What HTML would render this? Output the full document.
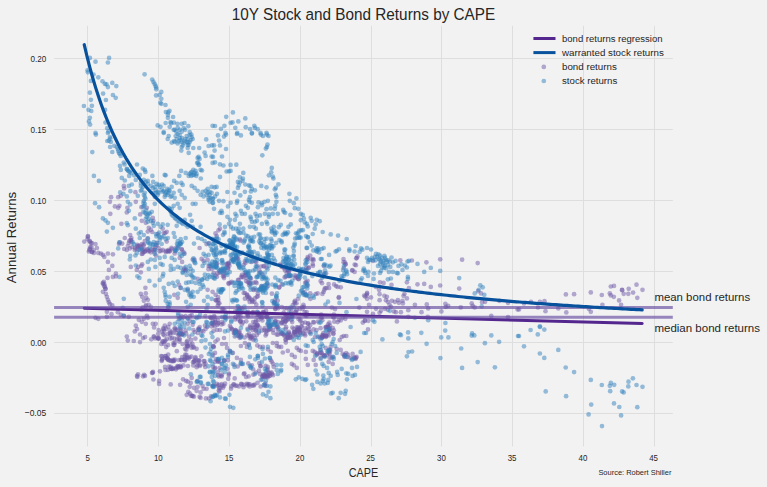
<!DOCTYPE html><html><head><meta charset="utf-8"><title>10Y Stock and Bond Returns by CAPE</title><style>html,body{margin:0;padding:0;background:#f2f2f2;}body{width:767px;height:487px;overflow:hidden}</style></head><body><svg width="767" height="487" viewBox="0 0 767 487" style="display:block;font-family:'Liberation Sans',sans-serif">
<rect width="767" height="487" fill="#f2f2f2"/>
<path d="M87.5 25.8V446.4M158.5 25.8V446.4M229.5 25.8V446.4M300.5 25.8V446.4M371.5 25.8V446.4M441.5 25.8V446.4M512.5 25.8V446.4M583.5 25.8V446.4M654.5 25.8V446.4M54.1 413.5H672.8M54.1 342.5H672.8M54.1 271.5H672.8M54.1 200.5H672.8M54.1 129.5H672.8M54.1 58.5H672.8" stroke="#dedede" stroke-width="1" fill="none"/>
<g fill="#6e5aa8" fill-opacity="0.5"><circle cx="123.8" cy="185.9" r="2.35"/><circle cx="124.2" cy="188.5" r="2.35"/><circle cx="135.4" cy="192.2" r="2.35"/><circle cx="111.1" cy="197.2" r="2.35"/><circle cx="118.2" cy="197.2" r="2.35"/><circle cx="120.8" cy="195.8" r="2.35"/><circle cx="109.9" cy="201.8" r="2.35"/><circle cx="114.9" cy="206.4" r="2.35"/><circle cx="118.2" cy="207.8" r="2.35"/><circle cx="119.4" cy="205.8" r="2.35"/><circle cx="110.3" cy="213.8" r="2.35"/><circle cx="127.4" cy="207.8" r="2.35"/><circle cx="126.8" cy="212.4" r="2.35"/><circle cx="135.8" cy="201.8" r="2.35"/><circle cx="141.4" cy="207.2" r="2.35"/><circle cx="140.2" cy="214.4" r="2.35"/><circle cx="146.8" cy="207.8" r="2.35"/><circle cx="141.8" cy="220.8" r="2.35"/><circle cx="145.8" cy="222.8" r="2.35"/><circle cx="152.8" cy="217.8" r="2.35"/><circle cx="153.4" cy="220.8" r="2.35"/><circle cx="121.4" cy="223.8" r="2.35"/><circle cx="148.8" cy="227.8" r="2.35"/><circle cx="150.8" cy="229.7" r="2.35"/><circle cx="162.7" cy="228.7" r="2.35"/><circle cx="220.0" cy="228.7" r="2.35"/><circle cx="87.9" cy="236.0" r="2.35"/><circle cx="84.3" cy="241.6" r="2.35"/><circle cx="87.5" cy="239.0" r="2.35"/><circle cx="89.9" cy="241.6" r="2.35"/><circle cx="91.9" cy="243.0" r="2.35"/><circle cx="95.5" cy="244.0" r="2.35"/><circle cx="90.3" cy="247.0" r="2.35"/><circle cx="89.5" cy="249.9" r="2.35"/><circle cx="91.9" cy="251.9" r="2.35"/><circle cx="93.5" cy="250.3" r="2.35"/><circle cx="96.9" cy="248.0" r="2.35"/><circle cx="98.3" cy="252.9" r="2.35"/><circle cx="100.9" cy="253.5" r="2.35"/><circle cx="102.9" cy="254.9" r="2.35"/><circle cx="104.3" cy="256.9" r="2.35"/><circle cx="107.9" cy="253.5" r="2.35"/><circle cx="112.9" cy="254.3" r="2.35"/><circle cx="107.9" cy="261.9" r="2.35"/><circle cx="112.3" cy="265.9" r="2.35"/><circle cx="108.9" cy="269.9" r="2.35"/><circle cx="115.9" cy="273.5" r="2.35"/><circle cx="112.9" cy="276.9" r="2.35"/><circle cx="115.9" cy="276.3" r="2.35"/><circle cx="107.5" cy="277.9" r="2.35"/><circle cx="102.9" cy="282.9" r="2.35"/><circle cx="104.3" cy="284.3" r="2.35"/><circle cx="104.9" cy="286.9" r="2.35"/><circle cx="105.5" cy="288.8" r="2.35"/><circle cx="102.9" cy="291.8" r="2.35"/><circle cx="105.9" cy="293.8" r="2.35"/><circle cx="106.9" cy="296.8" r="2.35"/><circle cx="107.9" cy="299.8" r="2.35"/><circle cx="108.9" cy="302.2" r="2.35"/><circle cx="109.9" cy="304.2" r="2.35"/><circle cx="112.3" cy="305.4" r="2.35"/><circle cx="106.9" cy="311.8" r="2.35"/><circle cx="111.5" cy="314.2" r="2.35"/><circle cx="106.9" cy="316.8" r="2.35"/><circle cx="117.8" cy="312.2" r="2.35"/><circle cx="120.8" cy="314.8" r="2.35"/><circle cx="123.8" cy="315.8" r="2.35"/><circle cx="128.8" cy="316.8" r="2.35"/><circle cx="95.5" cy="317.8" r="2.35"/><circle cx="98.3" cy="318.8" r="2.35"/><circle cx="124.8" cy="238.0" r="2.35"/><circle cx="130.2" cy="235.0" r="2.35"/><circle cx="131.4" cy="238.0" r="2.35"/><circle cx="119.8" cy="242.4" r="2.35"/><circle cx="122.2" cy="243.6" r="2.35"/><circle cx="128.8" cy="243.0" r="2.35"/><circle cx="127.8" cy="246.0" r="2.35"/><circle cx="124.2" cy="249.0" r="2.35"/><circle cx="126.8" cy="249.9" r="2.35"/><circle cx="129.8" cy="248.4" r="2.35"/><circle cx="132.2" cy="247.0" r="2.35"/><circle cx="134.8" cy="249.9" r="2.35"/><circle cx="136.8" cy="249.0" r="2.35"/><circle cx="141.8" cy="244.0" r="2.35"/><circle cx="144.8" cy="241.0" r="2.35"/><circle cx="147.8" cy="238.4" r="2.35"/><circle cx="147.8" cy="231.6" r="2.35"/><circle cx="152.2" cy="232.0" r="2.35"/><circle cx="157.7" cy="234.0" r="2.35"/><circle cx="163.7" cy="233.0" r="2.35"/><circle cx="166.7" cy="241.6" r="2.35"/><circle cx="158.7" cy="248.0" r="2.35"/><circle cx="153.8" cy="249.9" r="2.35"/><circle cx="150.8" cy="252.3" r="2.35"/><circle cx="147.8" cy="249.9" r="2.35"/><circle cx="144.8" cy="251.5" r="2.35"/><circle cx="141.8" cy="253.9" r="2.35"/><circle cx="162.7" cy="249.9" r="2.35"/><circle cx="165.7" cy="250.9" r="2.35"/><circle cx="168.7" cy="249.9" r="2.35"/><circle cx="171.7" cy="249.0" r="2.35"/><circle cx="174.7" cy="253.5" r="2.35"/><circle cx="177.7" cy="247.6" r="2.35"/><circle cx="181.7" cy="249.0" r="2.35"/><circle cx="179.7" cy="257.9" r="2.35"/><circle cx="182.1" cy="261.9" r="2.35"/><circle cx="142.2" cy="264.3" r="2.35"/><circle cx="141.4" cy="265.9" r="2.35"/><circle cx="138.2" cy="266.9" r="2.35"/><circle cx="136.8" cy="269.9" r="2.35"/><circle cx="140.8" cy="272.3" r="2.35"/><circle cx="130.8" cy="266.9" r="2.35"/><circle cx="145.4" cy="287.8" r="2.35"/><circle cx="140.8" cy="293.8" r="2.35"/><circle cx="142.2" cy="296.8" r="2.35"/><circle cx="145.8" cy="293.4" r="2.35"/><circle cx="146.2" cy="297.8" r="2.35"/><circle cx="147.8" cy="299.8" r="2.35"/><circle cx="143.8" cy="300.8" r="2.35"/><circle cx="148.8" cy="304.8" r="2.35"/><circle cx="150.8" cy="306.8" r="2.35"/><circle cx="146.8" cy="315.8" r="2.35"/><circle cx="143.8" cy="318.8" r="2.35"/><circle cx="147.8" cy="317.8" r="2.35"/><circle cx="141.8" cy="321.8" r="2.35"/><circle cx="145.8" cy="323.8" r="2.35"/><circle cx="138.8" cy="319.8" r="2.35"/><circle cx="135.8" cy="325.7" r="2.35"/><circle cx="152.8" cy="323.8" r="2.35"/><circle cx="155.7" cy="323.8" r="2.35"/><circle cx="174.3" cy="294.8" r="2.35"/><circle cx="177.7" cy="297.8" r="2.35"/><circle cx="187.7" cy="289.8" r="2.35"/><circle cx="192.7" cy="259.5" r="2.35"/><circle cx="194.6" cy="259.9" r="2.35"/><circle cx="199.6" cy="248.0" r="2.35"/><circle cx="201.6" cy="258.9" r="2.35"/><circle cx="203.6" cy="260.9" r="2.35"/><circle cx="207.6" cy="259.9" r="2.35"/><circle cx="208.6" cy="265.9" r="2.35"/><circle cx="211.6" cy="268.9" r="2.35"/><circle cx="207.6" cy="289.8" r="2.35"/><circle cx="212.6" cy="291.8" r="2.35"/><circle cx="189.7" cy="320.8" r="2.35"/><circle cx="187.7" cy="323.8" r="2.35"/><circle cx="192.7" cy="324.8" r="2.35"/><circle cx="169.7" cy="323.8" r="2.35"/><circle cx="400.3" cy="260.3" r="2.35"/><circle cx="411.9" cy="260.5" r="2.35"/><circle cx="426.4" cy="262.3" r="2.35"/><circle cx="440.2" cy="259.3" r="2.35"/><circle cx="462.1" cy="259.7" r="2.35"/><circle cx="477.7" cy="263.1" r="2.35"/><circle cx="373.0" cy="260.9" r="2.35"/><circle cx="406.9" cy="282.3" r="2.35"/><circle cx="417.5" cy="284.3" r="2.35"/><circle cx="424.2" cy="283.9" r="2.35"/><circle cx="430.8" cy="286.9" r="2.35"/><circle cx="440.2" cy="285.5" r="2.35"/><circle cx="459.2" cy="288.6" r="2.35"/><circle cx="408.9" cy="288.2" r="2.35"/><circle cx="404.5" cy="293.8" r="2.35"/><circle cx="403.5" cy="295.8" r="2.35"/><circle cx="406.9" cy="298.4" r="2.35"/><circle cx="391.5" cy="284.9" r="2.35"/><circle cx="383.6" cy="282.9" r="2.35"/><circle cx="380.0" cy="282.3" r="2.35"/><circle cx="376.0" cy="286.9" r="2.35"/><circle cx="379.0" cy="289.8" r="2.35"/><circle cx="379.6" cy="294.2" r="2.35"/><circle cx="384.4" cy="295.8" r="2.35"/><circle cx="386.9" cy="296.8" r="2.35"/><circle cx="379.6" cy="300.2" r="2.35"/><circle cx="385.9" cy="300.2" r="2.35"/><circle cx="387.9" cy="301.8" r="2.35"/><circle cx="391.9" cy="300.8" r="2.35"/><circle cx="389.5" cy="304.8" r="2.35"/><circle cx="390.9" cy="306.8" r="2.35"/><circle cx="394.9" cy="301.8" r="2.35"/><circle cx="397.9" cy="300.2" r="2.35"/><circle cx="398.9" cy="302.8" r="2.35"/><circle cx="402.5" cy="300.8" r="2.35"/><circle cx="402.9" cy="303.4" r="2.35"/><circle cx="367.0" cy="293.8" r="2.35"/><circle cx="371.0" cy="297.4" r="2.35"/><circle cx="367.0" cy="298.8" r="2.35"/><circle cx="369.0" cy="304.8" r="2.35"/><circle cx="414.9" cy="304.8" r="2.35"/><circle cx="426.8" cy="304.4" r="2.35"/><circle cx="428.2" cy="308.4" r="2.35"/><circle cx="445.4" cy="303.8" r="2.35"/><circle cx="448.2" cy="305.8" r="2.35"/><circle cx="445.8" cy="306.8" r="2.35"/><circle cx="441.4" cy="311.4" r="2.35"/><circle cx="421.5" cy="312.2" r="2.35"/><circle cx="408.3" cy="310.2" r="2.35"/><circle cx="400.9" cy="312.2" r="2.35"/><circle cx="395.9" cy="312.2" r="2.35"/><circle cx="393.9" cy="311.4" r="2.35"/><circle cx="387.9" cy="309.8" r="2.35"/><circle cx="385.0" cy="308.8" r="2.35"/><circle cx="381.0" cy="310.8" r="2.35"/><circle cx="379.6" cy="312.8" r="2.35"/><circle cx="376.0" cy="308.8" r="2.35"/><circle cx="373.0" cy="313.8" r="2.35"/><circle cx="367.0" cy="311.8" r="2.35"/><circle cx="368.4" cy="320.8" r="2.35"/><circle cx="396.9" cy="321.4" r="2.35"/><circle cx="408.3" cy="316.8" r="2.35"/><circle cx="427.8" cy="316.8" r="2.35"/><circle cx="460.8" cy="307.4" r="2.35"/><circle cx="471.7" cy="303.4" r="2.35"/><circle cx="472.7" cy="305.8" r="2.35"/><circle cx="474.7" cy="307.4" r="2.35"/><circle cx="482.1" cy="302.2" r="2.35"/><circle cx="485.1" cy="301.8" r="2.35"/><circle cx="481.1" cy="293.4" r="2.35"/><circle cx="478.1" cy="291.2" r="2.35"/><circle cx="491.3" cy="315.8" r="2.35"/><circle cx="508.0" cy="302.8" r="2.35"/><circle cx="499.3" cy="300.8" r="2.35"/><circle cx="508.0" cy="317.2" r="2.35"/><circle cx="517.6" cy="309.4" r="2.35"/><circle cx="565.9" cy="294.4" r="2.35"/><circle cx="574.1" cy="294.2" r="2.35"/><circle cx="590.8" cy="292.4" r="2.35"/><circle cx="601.8" cy="295.0" r="2.35"/><circle cx="609.8" cy="293.4" r="2.35"/><circle cx="610.8" cy="295.4" r="2.35"/><circle cx="613.8" cy="296.8" r="2.35"/><circle cx="610.8" cy="286.5" r="2.35"/><circle cx="614.0" cy="285.9" r="2.35"/><circle cx="622.1" cy="289.8" r="2.35"/><circle cx="623.7" cy="293.8" r="2.35"/><circle cx="628.7" cy="288.8" r="2.35"/><circle cx="628.3" cy="293.8" r="2.35"/><circle cx="633.1" cy="292.6" r="2.35"/><circle cx="636.5" cy="284.7" r="2.35"/><circle cx="642.5" cy="289.8" r="2.35"/><circle cx="637.3" cy="297.8" r="2.35"/><circle cx="619.1" cy="300.4" r="2.35"/><circle cx="621.1" cy="304.8" r="2.35"/><circle cx="602.4" cy="304.8" r="2.35"/><circle cx="590.8" cy="311.8" r="2.35"/><circle cx="588.8" cy="308.8" r="2.35"/><circle cx="566.3" cy="312.4" r="2.35"/><circle cx="558.3" cy="308.4" r="2.35"/><circle cx="545.5" cy="311.2" r="2.35"/><circle cx="538.0" cy="307.4" r="2.35"/><circle cx="539.9" cy="301.8" r="2.35"/><circle cx="544.5" cy="301.2" r="2.35"/><circle cx="531.0" cy="301.8" r="2.35"/><circle cx="524.0" cy="303.4" r="2.35"/><circle cx="519.0" cy="309.4" r="2.35"/><circle cx="126.8" cy="336.6" r="2.35"/><circle cx="127.8" cy="340.6" r="2.35"/><circle cx="133.8" cy="341.0" r="2.35"/><circle cx="134.8" cy="331.4" r="2.35"/><circle cx="137.4" cy="376.9" r="2.35"/><circle cx="153.4" cy="379.5" r="2.35"/><circle cx="159.1" cy="380.9" r="2.35"/><circle cx="159.1" cy="383.9" r="2.35"/><circle cx="170.7" cy="384.4" r="2.35"/><circle cx="180.1" cy="384.8" r="2.35"/><circle cx="183.1" cy="379.3" r="2.35"/><circle cx="186.1" cy="380.9" r="2.35"/><circle cx="190.7" cy="382.9" r="2.35"/><circle cx="189.7" cy="386.8" r="2.35"/><circle cx="191.7" cy="377.9" r="2.35"/><circle cx="188.3" cy="391.8" r="2.35"/><circle cx="186.7" cy="394.8" r="2.35"/><circle cx="192.1" cy="395.8" r="2.35"/><circle cx="194.0" cy="387.8" r="2.35"/><circle cx="197.6" cy="386.8" r="2.35"/><circle cx="196.6" cy="390.8" r="2.35"/><circle cx="200.6" cy="392.4" r="2.35"/><circle cx="199.6" cy="396.8" r="2.35"/><circle cx="200.6" cy="397.8" r="2.35"/><circle cx="203.6" cy="388.8" r="2.35"/><circle cx="206.6" cy="388.8" r="2.35"/><circle cx="202.6" cy="385.8" r="2.35"/><circle cx="197.6" cy="380.9" r="2.35"/><circle cx="220.0" cy="330.0" r="2.35"/><circle cx="224.0" cy="338.0" r="2.35"/><circle cx="222.0" cy="344.0" r="2.35"/><circle cx="226.0" cy="344.0" r="2.35"/><circle cx="227.0" cy="347.9" r="2.35"/><circle cx="230.0" cy="351.9" r="2.35"/><circle cx="232.9" cy="352.9" r="2.35"/><circle cx="236.9" cy="357.9" r="2.35"/><circle cx="240.9" cy="359.9" r="2.35"/><circle cx="241.9" cy="363.9" r="2.35"/><circle cx="244.9" cy="343.0" r="2.35"/><circle cx="248.9" cy="344.0" r="2.35"/><circle cx="240.9" cy="346.0" r="2.35"/><circle cx="246.9" cy="346.9" r="2.35"/><circle cx="250.9" cy="337.0" r="2.35"/><circle cx="257.3" cy="345.4" r="2.35"/><circle cx="259.9" cy="346.9" r="2.35"/><circle cx="262.9" cy="346.9" r="2.35"/><circle cx="267.9" cy="349.3" r="2.35"/><circle cx="270.8" cy="351.9" r="2.35"/><circle cx="272.8" cy="343.0" r="2.35"/><circle cx="276.8" cy="343.0" r="2.35"/><circle cx="276.8" cy="346.0" r="2.35"/><circle cx="278.8" cy="346.9" r="2.35"/><circle cx="281.2" cy="346.9" r="2.35"/><circle cx="282.8" cy="352.5" r="2.35"/><circle cx="285.8" cy="342.6" r="2.35"/><circle cx="287.8" cy="350.9" r="2.35"/><circle cx="291.8" cy="354.9" r="2.35"/><circle cx="294.8" cy="356.9" r="2.35"/><circle cx="296.8" cy="347.9" r="2.35"/><circle cx="298.8" cy="349.9" r="2.35"/><circle cx="300.8" cy="350.9" r="2.35"/><circle cx="305.8" cy="351.9" r="2.35"/><circle cx="305.8" cy="358.9" r="2.35"/><circle cx="307.8" cy="364.9" r="2.35"/><circle cx="291.8" cy="363.9" r="2.35"/><circle cx="293.8" cy="365.3" r="2.35"/><circle cx="296.8" cy="367.9" r="2.35"/><circle cx="312.7" cy="350.9" r="2.35"/><circle cx="314.7" cy="351.9" r="2.35"/><circle cx="313.7" cy="359.9" r="2.35"/><circle cx="315.7" cy="364.9" r="2.35"/><circle cx="316.7" cy="354.9" r="2.35"/><circle cx="319.7" cy="352.9" r="2.35"/><circle cx="322.7" cy="354.9" r="2.35"/><circle cx="324.7" cy="355.9" r="2.35"/><circle cx="326.7" cy="354.9" r="2.35"/><circle cx="329.7" cy="353.9" r="2.35"/><circle cx="331.7" cy="357.9" r="2.35"/><circle cx="332.7" cy="363.9" r="2.35"/><circle cx="328.7" cy="361.9" r="2.35"/><circle cx="336.7" cy="348.9" r="2.35"/><circle cx="340.7" cy="349.9" r="2.35"/><circle cx="342.7" cy="353.9" r="2.35"/><circle cx="344.7" cy="354.9" r="2.35"/><circle cx="347.6" cy="356.9" r="2.35"/><circle cx="350.6" cy="357.9" r="2.35"/><circle cx="352.6" cy="353.9" r="2.35"/><circle cx="355.6" cy="358.9" r="2.35"/><circle cx="356.6" cy="356.9" r="2.35"/><circle cx="341.7" cy="337.0" r="2.35"/><circle cx="343.7" cy="336.0" r="2.35"/><circle cx="346.3" cy="336.0" r="2.35"/><circle cx="339.7" cy="340.0" r="2.35"/><circle cx="330.7" cy="346.9" r="2.35"/><circle cx="325.7" cy="347.9" r="2.35"/><circle cx="238.9" cy="336.0" r="2.35"/><circle cx="238.5" cy="335.4" r="2.35"/><circle cx="215.0" cy="352.9" r="2.35"/><circle cx="213.0" cy="354.9" r="2.35"/><circle cx="213.0" cy="366.9" r="2.35"/><circle cx="368.0" cy="329.4" r="2.35"/><circle cx="622.1" cy="290.2" r="2.35"/><circle cx="218.5" cy="230.3" r="2.35"/><circle cx="215.5" cy="233.4" r="2.35"/><circle cx="216.7" cy="236.1" r="2.35"/><circle cx="240.0" cy="239.4" r="2.35"/><circle cx="240.5" cy="240.7" r="2.35"/><circle cx="228.4" cy="262.8" r="2.35"/><circle cx="228.9" cy="263.5" r="2.35"/><circle cx="229.4" cy="265.7" r="2.35"/><circle cx="227.2" cy="267.4" r="2.35"/><circle cx="226.3" cy="264.1" r="2.35"/><circle cx="227.7" cy="263.9" r="2.35"/><circle cx="227.4" cy="264.9" r="2.35"/><circle cx="228.0" cy="268.0" r="2.35"/><circle cx="228.3" cy="269.1" r="2.35"/><circle cx="217.2" cy="263.5" r="2.35"/><circle cx="216.6" cy="264.4" r="2.35"/><circle cx="236.2" cy="257.0" r="2.35"/><circle cx="233.2" cy="259.8" r="2.35"/><circle cx="233.1" cy="260.3" r="2.35"/><circle cx="231.8" cy="258.7" r="2.35"/><circle cx="244.8" cy="261.4" r="2.35"/><circle cx="245.5" cy="263.1" r="2.35"/><circle cx="243.7" cy="265.1" r="2.35"/><circle cx="236.5" cy="257.9" r="2.35"/><circle cx="237.5" cy="259.0" r="2.35"/><circle cx="238.2" cy="258.8" r="2.35"/><circle cx="257.2" cy="266.2" r="2.35"/><circle cx="261.0" cy="266.5" r="2.35"/><circle cx="263.4" cy="266.1" r="2.35"/><circle cx="264.3" cy="266.3" r="2.35"/><circle cx="266.6" cy="267.7" r="2.35"/><circle cx="256.3" cy="261.9" r="2.35"/><circle cx="255.3" cy="261.4" r="2.35"/><circle cx="251.6" cy="261.9" r="2.35"/><circle cx="279.9" cy="264.7" r="2.35"/><circle cx="280.4" cy="265.1" r="2.35"/><circle cx="281.4" cy="266.4" r="2.35"/><circle cx="282.3" cy="267.1" r="2.35"/><circle cx="284.4" cy="268.4" r="2.35"/><circle cx="310.2" cy="255.5" r="2.35"/><circle cx="307.7" cy="257.0" r="2.35"/><circle cx="307.8" cy="258.7" r="2.35"/><circle cx="307.1" cy="259.5" r="2.35"/><circle cx="290.1" cy="268.6" r="2.35"/><circle cx="313.1" cy="259.0" r="2.35"/><circle cx="311.7" cy="259.6" r="2.35"/><circle cx="313.5" cy="260.2" r="2.35"/><circle cx="312.7" cy="264.0" r="2.35"/><circle cx="313.0" cy="265.8" r="2.35"/><circle cx="323.9" cy="266.0" r="2.35"/><circle cx="343.5" cy="259.0" r="2.35"/><circle cx="343.6" cy="262.2" r="2.35"/><circle cx="344.9" cy="262.4" r="2.35"/><circle cx="345.6" cy="264.1" r="2.35"/><circle cx="345.5" cy="264.5" r="2.35"/><circle cx="343.7" cy="268.0" r="2.35"/><circle cx="354.7" cy="264.6" r="2.35"/><circle cx="355.9" cy="265.2" r="2.35"/><circle cx="357.5" cy="256.4" r="2.35"/><circle cx="356.7" cy="258.1" r="2.35"/><circle cx="356.2" cy="258.3" r="2.35"/><circle cx="221.1" cy="269.7" r="2.35"/><circle cx="219.5" cy="271.2" r="2.35"/><circle cx="219.8" cy="272.9" r="2.35"/><circle cx="217.4" cy="273.2" r="2.35"/><circle cx="215.6" cy="275.5" r="2.35"/><circle cx="216.9" cy="276.8" r="2.35"/><circle cx="231.7" cy="281.8" r="2.35"/><circle cx="230.4" cy="282.8" r="2.35"/><circle cx="228.7" cy="283.1" r="2.35"/><circle cx="228.6" cy="283.8" r="2.35"/><circle cx="224.1" cy="270.4" r="2.35"/><circle cx="224.4" cy="271.4" r="2.35"/><circle cx="223.3" cy="273.8" r="2.35"/><circle cx="223.0" cy="276.3" r="2.35"/><circle cx="224.0" cy="276.1" r="2.35"/><circle cx="224.0" cy="278.1" r="2.35"/><circle cx="213.7" cy="272.9" r="2.35"/><circle cx="244.9" cy="272.8" r="2.35"/><circle cx="246.2" cy="273.7" r="2.35"/><circle cx="246.4" cy="278.0" r="2.35"/><circle cx="250.1" cy="277.9" r="2.35"/><circle cx="250.9" cy="278.4" r="2.35"/><circle cx="242.0" cy="274.8" r="2.35"/><circle cx="245.3" cy="275.4" r="2.35"/><circle cx="246.3" cy="274.9" r="2.35"/><circle cx="243.1" cy="277.3" r="2.35"/><circle cx="242.0" cy="276.7" r="2.35"/><circle cx="241.1" cy="277.2" r="2.35"/><circle cx="238.7" cy="280.2" r="2.35"/><circle cx="238.0" cy="279.9" r="2.35"/><circle cx="246.0" cy="281.0" r="2.35"/><circle cx="247.7" cy="282.3" r="2.35"/><circle cx="249.0" cy="282.3" r="2.35"/><circle cx="249.2" cy="285.2" r="2.35"/><circle cx="256.6" cy="283.1" r="2.35"/><circle cx="255.7" cy="282.0" r="2.35"/><circle cx="253.2" cy="282.9" r="2.35"/><circle cx="249.8" cy="283.3" r="2.35"/><circle cx="249.8" cy="283.1" r="2.35"/><circle cx="259.3" cy="270.4" r="2.35"/><circle cx="260.3" cy="272.5" r="2.35"/><circle cx="262.4" cy="274.6" r="2.35"/><circle cx="267.4" cy="283.3" r="2.35"/><circle cx="268.0" cy="285.9" r="2.35"/><circle cx="261.9" cy="286.2" r="2.35"/><circle cx="261.1" cy="287.5" r="2.35"/><circle cx="290.6" cy="275.9" r="2.35"/><circle cx="289.3" cy="276.2" r="2.35"/><circle cx="285.6" cy="276.7" r="2.35"/><circle cx="284.6" cy="277.4" r="2.35"/><circle cx="285.1" cy="270.5" r="2.35"/><circle cx="286.7" cy="273.0" r="2.35"/><circle cx="281.9" cy="284.4" r="2.35"/><circle cx="279.3" cy="287.2" r="2.35"/><circle cx="279.1" cy="287.6" r="2.35"/><circle cx="287.6" cy="269.5" r="2.35"/><circle cx="288.0" cy="270.0" r="2.35"/><circle cx="288.6" cy="272.0" r="2.35"/><circle cx="289.1" cy="271.5" r="2.35"/><circle cx="288.5" cy="276.0" r="2.35"/><circle cx="300.0" cy="274.5" r="2.35"/><circle cx="297.6" cy="277.4" r="2.35"/><circle cx="298.7" cy="279.2" r="2.35"/><circle cx="307.6" cy="280.8" r="2.35"/><circle cx="306.1" cy="282.0" r="2.35"/><circle cx="305.2" cy="282.9" r="2.35"/><circle cx="307.8" cy="285.6" r="2.35"/><circle cx="308.9" cy="267.3" r="2.35"/><circle cx="308.5" cy="268.2" r="2.35"/><circle cx="306.3" cy="268.0" r="2.35"/><circle cx="305.6" cy="270.2" r="2.35"/><circle cx="305.0" cy="271.1" r="2.35"/><circle cx="295.1" cy="275.3" r="2.35"/><circle cx="296.0" cy="276.5" r="2.35"/><circle cx="295.0" cy="278.0" r="2.35"/><circle cx="298.2" cy="278.9" r="2.35"/><circle cx="301.2" cy="270.4" r="2.35"/><circle cx="326.1" cy="273.4" r="2.35"/><circle cx="323.6" cy="274.5" r="2.35"/><circle cx="328.6" cy="284.1" r="2.35"/><circle cx="329.1" cy="287.9" r="2.35"/><circle cx="326.5" cy="288.1" r="2.35"/><circle cx="325.1" cy="288.0" r="2.35"/><circle cx="324.3" cy="289.7" r="2.35"/><circle cx="320.6" cy="281.1" r="2.35"/><circle cx="322.0" cy="283.2" r="2.35"/><circle cx="334.1" cy="284.4" r="2.35"/><circle cx="336.0" cy="286.1" r="2.35"/><circle cx="337.7" cy="286.9" r="2.35"/><circle cx="340.8" cy="287.3" r="2.35"/><circle cx="352.5" cy="270.1" r="2.35"/><circle cx="352.1" cy="270.6" r="2.35"/><circle cx="354.6" cy="271.9" r="2.35"/><circle cx="215.6" cy="294.8" r="2.35"/><circle cx="218.1" cy="297.0" r="2.35"/><circle cx="218.3" cy="299.9" r="2.35"/><circle cx="217.5" cy="300.7" r="2.35"/><circle cx="219.4" cy="303.3" r="2.35"/><circle cx="217.9" cy="305.6" r="2.35"/><circle cx="215.7" cy="300.3" r="2.35"/><circle cx="215.8" cy="300.1" r="2.35"/><circle cx="218.3" cy="303.3" r="2.35"/><circle cx="247.4" cy="296.5" r="2.35"/><circle cx="249.6" cy="298.0" r="2.35"/><circle cx="248.5" cy="299.2" r="2.35"/><circle cx="249.7" cy="301.9" r="2.35"/><circle cx="243.7" cy="293.0" r="2.35"/><circle cx="245.0" cy="293.0" r="2.35"/><circle cx="246.9" cy="295.1" r="2.35"/><circle cx="248.9" cy="297.1" r="2.35"/><circle cx="247.2" cy="294.5" r="2.35"/><circle cx="244.9" cy="298.7" r="2.35"/><circle cx="251.7" cy="299.6" r="2.35"/><circle cx="252.4" cy="300.7" r="2.35"/><circle cx="252.3" cy="301.9" r="2.35"/><circle cx="254.4" cy="302.0" r="2.35"/><circle cx="256.3" cy="304.7" r="2.35"/><circle cx="257.8" cy="293.5" r="2.35"/><circle cx="257.9" cy="296.2" r="2.35"/><circle cx="256.8" cy="296.8" r="2.35"/><circle cx="254.9" cy="298.3" r="2.35"/><circle cx="256.4" cy="289.8" r="2.35"/><circle cx="253.0" cy="289.3" r="2.35"/><circle cx="253.9" cy="289.9" r="2.35"/><circle cx="277.7" cy="300.5" r="2.35"/><circle cx="274.6" cy="302.6" r="2.35"/><circle cx="274.8" cy="300.4" r="2.35"/><circle cx="273.9" cy="302.7" r="2.35"/><circle cx="276.8" cy="306.0" r="2.35"/><circle cx="276.7" cy="306.8" r="2.35"/><circle cx="276.6" cy="306.9" r="2.35"/><circle cx="275.2" cy="309.1" r="2.35"/><circle cx="275.5" cy="308.6" r="2.35"/><circle cx="271.9" cy="293.7" r="2.35"/><circle cx="297.8" cy="299.0" r="2.35"/><circle cx="294.9" cy="300.8" r="2.35"/><circle cx="294.5" cy="302.1" r="2.35"/><circle cx="303.1" cy="292.6" r="2.35"/><circle cx="304.6" cy="292.3" r="2.35"/><circle cx="305.4" cy="295.2" r="2.35"/><circle cx="310.2" cy="293.3" r="2.35"/><circle cx="303.4" cy="304.8" r="2.35"/><circle cx="303.9" cy="306.8" r="2.35"/><circle cx="302.2" cy="307.0" r="2.35"/><circle cx="302.6" cy="308.9" r="2.35"/><circle cx="296.5" cy="303.3" r="2.35"/><circle cx="294.8" cy="303.3" r="2.35"/><circle cx="292.8" cy="305.0" r="2.35"/><circle cx="323.6" cy="292.0" r="2.35"/><circle cx="322.4" cy="293.9" r="2.35"/><circle cx="317.6" cy="293.4" r="2.35"/><circle cx="315.7" cy="294.0" r="2.35"/><circle cx="310.4" cy="298.8" r="2.35"/><circle cx="338.9" cy="297.2" r="2.35"/><circle cx="338.7" cy="297.8" r="2.35"/><circle cx="367.1" cy="292.9" r="2.35"/><circle cx="366.6" cy="295.4" r="2.35"/><circle cx="365.1" cy="296.5" r="2.35"/><circle cx="364.2" cy="295.5" r="2.35"/><circle cx="215.5" cy="322.1" r="2.35"/><circle cx="213.3" cy="322.9" r="2.35"/><circle cx="213.8" cy="323.1" r="2.35"/><circle cx="211.6" cy="326.3" r="2.35"/><circle cx="218.2" cy="323.2" r="2.35"/><circle cx="221.6" cy="324.4" r="2.35"/><circle cx="214.1" cy="316.0" r="2.35"/><circle cx="211.5" cy="317.6" r="2.35"/><circle cx="211.7" cy="323.8" r="2.35"/><circle cx="211.5" cy="323.3" r="2.35"/><circle cx="213.7" cy="324.6" r="2.35"/><circle cx="214.7" cy="326.5" r="2.35"/><circle cx="217.8" cy="320.1" r="2.35"/><circle cx="215.0" cy="319.8" r="2.35"/><circle cx="212.9" cy="321.0" r="2.35"/><circle cx="223.3" cy="323.7" r="2.35"/><circle cx="221.9" cy="322.2" r="2.35"/><circle cx="218.1" cy="323.3" r="2.35"/><circle cx="217.5" cy="324.8" r="2.35"/><circle cx="223.1" cy="309.0" r="2.35"/><circle cx="222.0" cy="309.0" r="2.35"/><circle cx="224.4" cy="310.4" r="2.35"/><circle cx="239.6" cy="309.2" r="2.35"/><circle cx="240.7" cy="311.8" r="2.35"/><circle cx="241.2" cy="312.8" r="2.35"/><circle cx="239.1" cy="314.2" r="2.35"/><circle cx="240.2" cy="321.6" r="2.35"/><circle cx="243.1" cy="322.3" r="2.35"/><circle cx="246.3" cy="321.3" r="2.35"/><circle cx="235.2" cy="311.4" r="2.35"/><circle cx="237.6" cy="312.0" r="2.35"/><circle cx="237.6" cy="313.1" r="2.35"/><circle cx="238.2" cy="315.0" r="2.35"/><circle cx="247.3" cy="312.6" r="2.35"/><circle cx="248.1" cy="313.6" r="2.35"/><circle cx="248.0" cy="316.3" r="2.35"/><circle cx="248.1" cy="311.8" r="2.35"/><circle cx="246.8" cy="313.8" r="2.35"/><circle cx="247.8" cy="314.7" r="2.35"/><circle cx="240.5" cy="316.6" r="2.35"/><circle cx="238.1" cy="319.1" r="2.35"/><circle cx="235.5" cy="317.2" r="2.35"/><circle cx="235.2" cy="319.5" r="2.35"/><circle cx="240.8" cy="320.8" r="2.35"/><circle cx="240.2" cy="321.3" r="2.35"/><circle cx="241.8" cy="324.4" r="2.35"/><circle cx="242.1" cy="309.0" r="2.35"/><circle cx="240.9" cy="307.8" r="2.35"/><circle cx="238.8" cy="310.1" r="2.35"/><circle cx="237.4" cy="310.9" r="2.35"/><circle cx="257.0" cy="311.8" r="2.35"/><circle cx="258.5" cy="313.6" r="2.35"/><circle cx="256.4" cy="314.8" r="2.35"/><circle cx="257.9" cy="314.6" r="2.35"/><circle cx="260.8" cy="316.1" r="2.35"/><circle cx="261.3" cy="318.3" r="2.35"/><circle cx="258.2" cy="313.4" r="2.35"/><circle cx="258.7" cy="315.1" r="2.35"/><circle cx="260.1" cy="316.6" r="2.35"/><circle cx="260.8" cy="316.3" r="2.35"/><circle cx="258.1" cy="320.3" r="2.35"/><circle cx="256.1" cy="320.6" r="2.35"/><circle cx="255.3" cy="322.3" r="2.35"/><circle cx="253.2" cy="322.0" r="2.35"/><circle cx="253.3" cy="312.2" r="2.35"/><circle cx="252.5" cy="312.6" r="2.35"/><circle cx="252.1" cy="314.1" r="2.35"/><circle cx="264.0" cy="312.4" r="2.35"/><circle cx="266.0" cy="310.8" r="2.35"/><circle cx="267.7" cy="314.2" r="2.35"/><circle cx="269.4" cy="325.2" r="2.35"/><circle cx="269.9" cy="326.5" r="2.35"/><circle cx="267.6" cy="324.6" r="2.35"/><circle cx="262.3" cy="317.2" r="2.35"/><circle cx="262.4" cy="320.4" r="2.35"/><circle cx="263.2" cy="311.9" r="2.35"/><circle cx="263.3" cy="312.6" r="2.35"/><circle cx="265.1" cy="315.5" r="2.35"/><circle cx="267.0" cy="316.9" r="2.35"/><circle cx="266.4" cy="316.7" r="2.35"/><circle cx="267.9" cy="318.8" r="2.35"/><circle cx="254.2" cy="325.0" r="2.35"/><circle cx="256.8" cy="324.9" r="2.35"/><circle cx="257.7" cy="325.0" r="2.35"/><circle cx="285.0" cy="320.9" r="2.35"/><circle cx="282.0" cy="322.9" r="2.35"/><circle cx="282.1" cy="322.0" r="2.35"/><circle cx="281.1" cy="323.4" r="2.35"/><circle cx="278.0" cy="327.2" r="2.35"/><circle cx="277.3" cy="326.4" r="2.35"/><circle cx="283.5" cy="319.3" r="2.35"/><circle cx="283.3" cy="319.4" r="2.35"/><circle cx="285.4" cy="321.6" r="2.35"/><circle cx="284.5" cy="323.7" r="2.35"/><circle cx="275.3" cy="323.1" r="2.35"/><circle cx="271.0" cy="325.5" r="2.35"/><circle cx="270.4" cy="325.7" r="2.35"/><circle cx="268.9" cy="325.9" r="2.35"/><circle cx="283.7" cy="312.6" r="2.35"/><circle cx="285.2" cy="314.6" r="2.35"/><circle cx="275.2" cy="321.4" r="2.35"/><circle cx="275.5" cy="320.8" r="2.35"/><circle cx="278.0" cy="322.1" r="2.35"/><circle cx="286.3" cy="315.2" r="2.35"/><circle cx="286.9" cy="317.0" r="2.35"/><circle cx="287.2" cy="319.9" r="2.35"/><circle cx="286.1" cy="321.1" r="2.35"/><circle cx="278.2" cy="308.3" r="2.35"/><circle cx="281.8" cy="307.1" r="2.35"/><circle cx="284.6" cy="308.3" r="2.35"/><circle cx="286.8" cy="308.1" r="2.35"/><circle cx="289.1" cy="309.0" r="2.35"/><circle cx="291.1" cy="308.2" r="2.35"/><circle cx="304.7" cy="312.0" r="2.35"/><circle cx="306.3" cy="314.4" r="2.35"/><circle cx="299.6" cy="308.7" r="2.35"/><circle cx="296.6" cy="310.1" r="2.35"/><circle cx="296.1" cy="311.8" r="2.35"/><circle cx="295.2" cy="312.0" r="2.35"/><circle cx="291.3" cy="311.9" r="2.35"/><circle cx="291.4" cy="313.8" r="2.35"/><circle cx="306.7" cy="312.1" r="2.35"/><circle cx="305.2" cy="315.2" r="2.35"/><circle cx="306.4" cy="316.0" r="2.35"/><circle cx="292.4" cy="316.1" r="2.35"/><circle cx="291.9" cy="316.6" r="2.35"/><circle cx="288.1" cy="318.9" r="2.35"/><circle cx="298.5" cy="319.1" r="2.35"/><circle cx="300.4" cy="319.5" r="2.35"/><circle cx="300.5" cy="321.3" r="2.35"/><circle cx="302.4" cy="323.1" r="2.35"/><circle cx="305.0" cy="322.5" r="2.35"/><circle cx="288.1" cy="318.4" r="2.35"/><circle cx="291.2" cy="320.1" r="2.35"/><circle cx="292.2" cy="322.1" r="2.35"/><circle cx="318.0" cy="321.5" r="2.35"/><circle cx="314.0" cy="322.4" r="2.35"/><circle cx="313.2" cy="322.2" r="2.35"/><circle cx="310.1" cy="325.2" r="2.35"/><circle cx="307.8" cy="323.4" r="2.35"/><circle cx="308.3" cy="323.5" r="2.35"/><circle cx="329.4" cy="322.7" r="2.35"/><circle cx="328.1" cy="324.3" r="2.35"/><circle cx="328.1" cy="327.2" r="2.35"/><circle cx="325.4" cy="327.6" r="2.35"/><circle cx="321.2" cy="314.7" r="2.35"/><circle cx="321.7" cy="317.2" r="2.35"/><circle cx="320.9" cy="318.2" r="2.35"/><circle cx="322.3" cy="320.2" r="2.35"/><circle cx="326.2" cy="327.0" r="2.35"/><circle cx="327.9" cy="326.6" r="2.35"/><circle cx="345.3" cy="318.8" r="2.35"/><circle cx="342.7" cy="317.8" r="2.35"/><circle cx="340.7" cy="320.5" r="2.35"/><circle cx="338.8" cy="320.0" r="2.35"/><circle cx="337.7" cy="322.1" r="2.35"/><circle cx="334.3" cy="321.7" r="2.35"/><circle cx="335.1" cy="309.1" r="2.35"/><circle cx="331.9" cy="307.6" r="2.35"/><circle cx="333.9" cy="314.6" r="2.35"/><circle cx="333.1" cy="317.1" r="2.35"/><circle cx="334.1" cy="317.5" r="2.35"/><circle cx="330.0" cy="325.6" r="2.35"/><circle cx="364.8" cy="320.9" r="2.35"/><circle cx="365.0" cy="320.4" r="2.35"/><circle cx="362.8" cy="322.6" r="2.35"/><circle cx="359.3" cy="307.6" r="2.35"/><circle cx="164.8" cy="325.5" r="2.35"/><circle cx="168.2" cy="326.9" r="2.35"/><circle cx="205.0" cy="325.5" r="2.35"/><circle cx="207.3" cy="326.9" r="2.35"/><circle cx="213.4" cy="346.2" r="2.35"/><circle cx="213.7" cy="347.2" r="2.35"/><circle cx="213.2" cy="346.4" r="2.35"/><circle cx="190.0" cy="393.6" r="2.35"/><circle cx="191.1" cy="395.8" r="2.35"/><circle cx="192.8" cy="396.0" r="2.35"/><circle cx="193.9" cy="396.7" r="2.35"/><circle cx="211.2" cy="396.3" r="2.35"/><circle cx="209.0" cy="398.5" r="2.35"/><circle cx="205.9" cy="398.4" r="2.35"/><circle cx="187.8" cy="381.7" r="2.35"/><circle cx="315.0" cy="337.2" r="2.35"/><circle cx="318.7" cy="336.6" r="2.35"/><circle cx="322.0" cy="337.8" r="2.35"/><circle cx="257.7" cy="325.5" r="2.35"/><circle cx="256.7" cy="326.5" r="2.35"/><circle cx="254.9" cy="326.9" r="2.35"/><circle cx="253.4" cy="328.0" r="2.35"/><circle cx="252.4" cy="330.1" r="2.35"/><circle cx="265.8" cy="331.6" r="2.35"/><circle cx="266.4" cy="333.8" r="2.35"/><circle cx="265.6" cy="335.5" r="2.35"/><circle cx="298.0" cy="327.3" r="2.35"/><circle cx="296.9" cy="327.3" r="2.35"/><circle cx="297.1" cy="329.8" r="2.35"/><circle cx="298.1" cy="328.8" r="2.35"/><circle cx="239.6" cy="337.8" r="2.35"/><circle cx="240.6" cy="335.4" r="2.35"/><circle cx="241.4" cy="335.7" r="2.35"/><circle cx="258.7" cy="332.8" r="2.35"/><circle cx="256.8" cy="335.1" r="2.35"/><circle cx="253.4" cy="335.4" r="2.35"/><circle cx="251.5" cy="336.3" r="2.35"/><circle cx="247.4" cy="335.3" r="2.35"/><circle cx="244.6" cy="337.5" r="2.35"/><circle cx="293.7" cy="328.8" r="2.35"/><circle cx="294.4" cy="332.3" r="2.35"/><circle cx="294.5" cy="333.6" r="2.35"/><circle cx="298.0" cy="335.0" r="2.35"/><circle cx="295.6" cy="335.1" r="2.35"/><circle cx="293.2" cy="335.9" r="2.35"/><circle cx="289.9" cy="337.9" r="2.35"/><circle cx="290.3" cy="337.3" r="2.35"/><circle cx="287.9" cy="338.1" r="2.35"/><circle cx="329.3" cy="328.0" r="2.35"/><circle cx="332.8" cy="328.1" r="2.35"/><circle cx="333.8" cy="330.3" r="2.35"/><circle cx="323.3" cy="333.1" r="2.35"/><circle cx="322.3" cy="335.1" r="2.35"/><circle cx="323.2" cy="335.2" r="2.35"/><circle cx="323.0" cy="336.6" r="2.35"/><circle cx="322.0" cy="337.6" r="2.35"/><circle cx="301.5" cy="326.5" r="2.35"/><circle cx="301.5" cy="326.5" r="2.35"/><circle cx="305.4" cy="328.4" r="2.35"/><circle cx="308.1" cy="327.7" r="2.35"/><circle cx="235.4" cy="330.0" r="2.35"/><circle cx="236.4" cy="331.3" r="2.35"/><circle cx="235.6" cy="330.2" r="2.35"/><circle cx="238.5" cy="331.7" r="2.35"/><circle cx="239.7" cy="331.9" r="2.35"/><circle cx="299.4" cy="329.7" r="2.35"/><circle cx="297.6" cy="330.5" r="2.35"/><circle cx="296.7" cy="332.1" r="2.35"/><circle cx="329.1" cy="330.4" r="2.35"/><circle cx="329.3" cy="330.0" r="2.35"/><circle cx="330.2" cy="331.4" r="2.35"/><circle cx="250.2" cy="325.5" r="2.35"/><circle cx="251.2" cy="327.9" r="2.35"/><circle cx="250.1" cy="327.3" r="2.35"/><circle cx="247.5" cy="328.8" r="2.35"/><circle cx="283.2" cy="334.2" r="2.35"/><circle cx="281.7" cy="333.5" r="2.35"/><circle cx="281.0" cy="333.9" r="2.35"/><circle cx="277.8" cy="334.7" r="2.35"/><circle cx="276.7" cy="334.4" r="2.35"/><circle cx="322.1" cy="336.6" r="2.35"/><circle cx="323.9" cy="336.2" r="2.35"/><circle cx="238.8" cy="333.4" r="2.35"/><circle cx="240.5" cy="337.0" r="2.35"/><circle cx="259.6" cy="327.5" r="2.35"/><circle cx="256.3" cy="328.8" r="2.35"/><circle cx="255.9" cy="330.6" r="2.35"/><circle cx="255.8" cy="330.6" r="2.35"/><circle cx="328.7" cy="335.4" r="2.35"/><circle cx="326.2" cy="336.1" r="2.35"/><circle cx="325.9" cy="337.0" r="2.35"/><circle cx="261.9" cy="330.6" r="2.35"/><circle cx="264.4" cy="329.9" r="2.35"/><circle cx="266.9" cy="330.5" r="2.35"/><circle cx="268.5" cy="330.1" r="2.35"/><circle cx="300.1" cy="332.4" r="2.35"/><circle cx="303.0" cy="333.3" r="2.35"/><circle cx="304.7" cy="333.9" r="2.35"/><circle cx="305.2" cy="335.5" r="2.35"/><circle cx="254.9" cy="338.3" r="2.35"/><circle cx="253.4" cy="339.8" r="2.35"/><circle cx="250.0" cy="338.3" r="2.35"/><circle cx="300.0" cy="329.9" r="2.35"/><circle cx="297.8" cy="330.8" r="2.35"/><circle cx="294.6" cy="331.6" r="2.35"/><circle cx="295.1" cy="332.0" r="2.35"/><circle cx="294.0" cy="332.1" r="2.35"/><circle cx="264.6" cy="328.0" r="2.35"/><circle cx="269.2" cy="329.5" r="2.35"/><circle cx="270.4" cy="329.2" r="2.35"/><circle cx="287.7" cy="334.4" r="2.35"/><circle cx="287.3" cy="334.9" r="2.35"/><circle cx="287.8" cy="337.7" r="2.35"/><circle cx="285.8" cy="339.4" r="2.35"/><circle cx="285.6" cy="340.0" r="2.35"/><circle cx="249.1" cy="333.8" r="2.35"/><circle cx="249.5" cy="336.2" r="2.35"/><circle cx="251.5" cy="338.4" r="2.35"/><circle cx="229.9" cy="325.8" r="2.35"/><circle cx="230.9" cy="327.7" r="2.35"/><circle cx="232.1" cy="329.0" r="2.35"/><circle cx="232.0" cy="329.5" r="2.35"/><circle cx="235.1" cy="331.6" r="2.35"/><circle cx="217.1" cy="330.0" r="2.35"/><circle cx="213.5" cy="331.0" r="2.35"/><circle cx="234.3" cy="333.0" r="2.35"/><circle cx="233.9" cy="332.9" r="2.35"/><circle cx="235.4" cy="332.5" r="2.35"/><circle cx="234.8" cy="336.5" r="2.35"/><circle cx="273.0" cy="375.2" r="2.35"/><circle cx="271.4" cy="372.4" r="2.35"/><circle cx="268.0" cy="375.1" r="2.35"/><circle cx="270.0" cy="375.7" r="2.35"/><circle cx="266.7" cy="376.8" r="2.35"/><circle cx="268.3" cy="372.8" r="2.35"/><circle cx="268.1" cy="375.4" r="2.35"/><circle cx="264.3" cy="374.9" r="2.35"/><circle cx="264.8" cy="376.6" r="2.35"/><circle cx="262.8" cy="376.4" r="2.35"/><circle cx="262.3" cy="379.4" r="2.35"/><circle cx="265.5" cy="365.9" r="2.35"/><circle cx="267.7" cy="366.8" r="2.35"/><circle cx="267.6" cy="369.0" r="2.35"/><circle cx="267.4" cy="370.4" r="2.35"/><circle cx="265.4" cy="385.8" r="2.35"/><circle cx="264.4" cy="385.1" r="2.35"/><circle cx="260.7" cy="386.5" r="2.35"/><circle cx="262.5" cy="376.8" r="2.35"/><circle cx="265.0" cy="376.4" r="2.35"/><circle cx="218.0" cy="375.1" r="2.35"/><circle cx="218.9" cy="376.5" r="2.35"/><circle cx="221.1" cy="375.8" r="2.35"/><circle cx="221.7" cy="376.5" r="2.35"/><circle cx="256.1" cy="372.5" r="2.35"/><circle cx="259.0" cy="370.7" r="2.35"/><circle cx="260.0" cy="374.1" r="2.35"/><circle cx="215.2" cy="367.8" r="2.35"/><circle cx="214.7" cy="368.5" r="2.35"/><circle cx="270.6" cy="360.0" r="2.35"/><circle cx="271.7" cy="361.7" r="2.35"/><circle cx="273.0" cy="363.8" r="2.35"/><circle cx="273.7" cy="366.8" r="2.35"/><circle cx="234.3" cy="364.8" r="2.35"/><circle cx="237.7" cy="366.5" r="2.35"/><circle cx="259.3" cy="363.1" r="2.35"/><circle cx="260.6" cy="366.0" r="2.35"/><circle cx="260.4" cy="366.2" r="2.35"/><circle cx="265.0" cy="383.5" r="2.35"/><circle cx="219.2" cy="361.6" r="2.35"/><circle cx="217.8" cy="361.2" r="2.35"/><circle cx="215.0" cy="361.9" r="2.35"/><circle cx="215.9" cy="359.0" r="2.35"/><circle cx="218.2" cy="359.6" r="2.35"/><circle cx="218.2" cy="361.6" r="2.35"/><circle cx="224.2" cy="360.6" r="2.35"/><circle cx="224.4" cy="360.4" r="2.35"/><circle cx="227.9" cy="360.3" r="2.35"/><circle cx="217.8" cy="339.6" r="2.35"/><circle cx="215.4" cy="341.6" r="2.35"/><circle cx="229.8" cy="351.0" r="2.35"/><circle cx="219.3" cy="387.9" r="2.35"/><circle cx="218.8" cy="390.4" r="2.35"/><circle cx="219.5" cy="391.4" r="2.35"/><circle cx="220.6" cy="388.1" r="2.35"/><circle cx="145.0" cy="251.5" r="2.35"/><circle cx="143.5" cy="252.2" r="2.35"/><circle cx="142.6" cy="253.7" r="2.35"/><circle cx="131.3" cy="240.4" r="2.35"/><circle cx="130.6" cy="239.9" r="2.35"/><circle cx="129.3" cy="240.8" r="2.35"/><circle cx="143.6" cy="245.2" r="2.35"/><circle cx="143.6" cy="244.5" r="2.35"/><circle cx="140.4" cy="246.5" r="2.35"/><circle cx="137.2" cy="244.8" r="2.35"/><circle cx="137.7" cy="246.7" r="2.35"/><circle cx="139.4" cy="245.5" r="2.35"/><circle cx="169.4" cy="251.3" r="2.35"/><circle cx="169.8" cy="251.2" r="2.35"/><circle cx="167.7" cy="250.9" r="2.35"/><circle cx="156.6" cy="242.9" r="2.35"/><circle cx="156.5" cy="245.2" r="2.35"/><circle cx="155.2" cy="247.2" r="2.35"/><circle cx="154.9" cy="249.5" r="2.35"/><circle cx="166.7" cy="231.8" r="2.35"/><circle cx="165.3" cy="233.0" r="2.35"/><circle cx="209.8" cy="266.1" r="2.35"/><circle cx="208.5" cy="269.2" r="2.35"/><circle cx="184.4" cy="268.4" r="2.35"/><circle cx="183.8" cy="269.8" r="2.35"/><circle cx="186.1" cy="269.7" r="2.35"/><circle cx="185.3" cy="270.8" r="2.35"/><circle cx="206.5" cy="244.1" r="2.35"/><circle cx="208.9" cy="243.1" r="2.35"/><circle cx="179.1" cy="284.9" r="2.35"/><circle cx="180.6" cy="287.9" r="2.35"/><circle cx="197.8" cy="278.8" r="2.35"/><circle cx="191.8" cy="315.2" r="2.35"/><circle cx="190.0" cy="316.2" r="2.35"/><circle cx="187.6" cy="317.8" r="2.35"/><circle cx="185.5" cy="316.1" r="2.35"/><circle cx="183.5" cy="317.3" r="2.35"/><circle cx="181.3" cy="316.0" r="2.35"/><circle cx="180.8" cy="317.5" r="2.35"/><circle cx="179.0" cy="319.0" r="2.35"/><circle cx="210.1" cy="317.1" r="2.35"/><circle cx="210.9" cy="318.0" r="2.35"/><circle cx="214.5" cy="317.1" r="2.35"/><circle cx="205.3" cy="316.1" r="2.35"/><circle cx="146.0" cy="305.1" r="2.35"/><circle cx="145.9" cy="306.3" r="2.35"/><circle cx="142.7" cy="307.4" r="2.35"/><circle cx="141.5" cy="309.4" r="2.35"/><circle cx="164.1" cy="331.1" r="2.35"/><circle cx="180.9" cy="330.4" r="2.35"/><circle cx="175.0" cy="342.7" r="2.35"/><circle cx="164.3" cy="335.3" r="2.35"/><circle cx="158.6" cy="330.0" r="2.35"/><circle cx="170.3" cy="338.6" r="2.35"/><circle cx="163.9" cy="343.7" r="2.35"/><circle cx="174.3" cy="345.1" r="2.35"/><circle cx="172.0" cy="338.1" r="2.35"/><circle cx="177.1" cy="339.0" r="2.35"/><circle cx="174.5" cy="338.5" r="2.35"/><circle cx="165.4" cy="340.5" r="2.35"/><circle cx="179.3" cy="338.4" r="2.35"/><circle cx="167.9" cy="334.1" r="2.35"/><circle cx="165.9" cy="328.7" r="2.35"/><circle cx="173.6" cy="342.9" r="2.35"/><circle cx="173.5" cy="344.8" r="2.35"/><circle cx="174.5" cy="328.6" r="2.35"/><circle cx="175.2" cy="328.4" r="2.35"/><circle cx="168.1" cy="345.0" r="2.35"/><circle cx="182.3" cy="334.7" r="2.35"/><circle cx="163.5" cy="329.2" r="2.35"/><circle cx="162.0" cy="331.8" r="2.35"/><circle cx="182.1" cy="333.9" r="2.35"/><circle cx="182.6" cy="344.0" r="2.35"/><circle cx="186.1" cy="333.4" r="2.35"/><circle cx="179.7" cy="339.6" r="2.35"/><circle cx="162.4" cy="341.4" r="2.35"/><circle cx="175.7" cy="329.8" r="2.35"/><circle cx="170.0" cy="333.1" r="2.35"/><circle cx="171.7" cy="331.9" r="2.35"/><circle cx="163.4" cy="328.2" r="2.35"/><circle cx="176.6" cy="333.1" r="2.35"/><circle cx="166.8" cy="338.9" r="2.35"/><circle cx="178.5" cy="335.1" r="2.35"/><circle cx="185.5" cy="330.6" r="2.35"/><circle cx="164.7" cy="341.5" r="2.35"/><circle cx="169.8" cy="330.6" r="2.35"/><circle cx="180.4" cy="329.4" r="2.35"/><circle cx="182.8" cy="333.6" r="2.35"/><circle cx="179.5" cy="334.6" r="2.35"/><circle cx="173.3" cy="333.0" r="2.35"/><circle cx="181.9" cy="334.3" r="2.35"/><circle cx="161.3" cy="344.0" r="2.35"/><circle cx="180.4" cy="333.4" r="2.35"/><circle cx="170.3" cy="335.1" r="2.35"/><circle cx="163.2" cy="341.6" r="2.35"/><circle cx="179.4" cy="341.6" r="2.35"/><circle cx="163.2" cy="334.3" r="2.35"/><circle cx="177.3" cy="329.7" r="2.35"/><circle cx="179.5" cy="333.8" r="2.35"/><circle cx="158.2" cy="333.9" r="2.35"/><circle cx="158.4" cy="337.9" r="2.35"/><circle cx="153.7" cy="336.6" r="2.35"/><circle cx="154.2" cy="336.5" r="2.35"/><circle cx="151.2" cy="339.3" r="2.35"/><circle cx="157.5" cy="338.1" r="2.35"/><circle cx="158.7" cy="338.6" r="2.35"/><circle cx="155.0" cy="338.5" r="2.35"/><circle cx="158.3" cy="338.6" r="2.35"/><circle cx="191.2" cy="339.9" r="2.35"/><circle cx="192.4" cy="343.9" r="2.35"/><circle cx="191.7" cy="347.8" r="2.35"/><circle cx="186.7" cy="341.8" r="2.35"/><circle cx="187.4" cy="340.9" r="2.35"/><circle cx="196.6" cy="348.8" r="2.35"/><circle cx="190.4" cy="344.3" r="2.35"/><circle cx="189.1" cy="336.6" r="2.35"/><circle cx="186.6" cy="344.0" r="2.35"/><circle cx="193.2" cy="346.8" r="2.35"/><circle cx="195.4" cy="338.6" r="2.35"/><circle cx="187.2" cy="345.8" r="2.35"/><circle cx="185.3" cy="354.6" r="2.35"/><circle cx="186.5" cy="354.9" r="2.35"/><circle cx="185.0" cy="348.8" r="2.35"/><circle cx="187.9" cy="345.6" r="2.35"/><circle cx="186.3" cy="349.7" r="2.35"/><circle cx="188.1" cy="346.6" r="2.35"/><circle cx="186.9" cy="346.2" r="2.35"/><circle cx="197.6" cy="362.7" r="2.35"/><circle cx="193.3" cy="365.4" r="2.35"/><circle cx="197.4" cy="365.3" r="2.35"/><circle cx="204.5" cy="361.1" r="2.35"/><circle cx="205.3" cy="367.0" r="2.35"/><circle cx="197.7" cy="360.5" r="2.35"/><circle cx="194.5" cy="361.0" r="2.35"/><circle cx="193.1" cy="362.2" r="2.35"/><circle cx="199.3" cy="360.9" r="2.35"/><circle cx="205.5" cy="363.5" r="2.35"/><circle cx="194.4" cy="360.4" r="2.35"/><circle cx="199.8" cy="365.9" r="2.35"/><circle cx="204.1" cy="364.6" r="2.35"/><circle cx="199.1" cy="360.4" r="2.35"/><circle cx="196.7" cy="367.2" r="2.35"/><circle cx="194.9" cy="332.0" r="2.35"/><circle cx="201.4" cy="331.1" r="2.35"/><circle cx="199.1" cy="329.4" r="2.35"/><circle cx="203.3" cy="331.4" r="2.35"/><circle cx="199.7" cy="327.0" r="2.35"/><circle cx="198.5" cy="328.5" r="2.35"/><circle cx="193.5" cy="330.1" r="2.35"/><circle cx="197.9" cy="333.0" r="2.35"/><circle cx="140.0" cy="334.5" r="2.35"/><circle cx="143.0" cy="338.1" r="2.35"/><circle cx="145.1" cy="337.1" r="2.35"/><circle cx="140.0" cy="342.1" r="2.35"/><circle cx="154.1" cy="327.5" r="2.35"/><circle cx="137.0" cy="329.0" r="2.35"/><circle cx="152.6" cy="372.8" r="2.35"/><circle cx="160.0" cy="371.3" r="2.35"/><circle cx="138.0" cy="374.3" r="2.35"/><circle cx="144.1" cy="374.8" r="2.35"/><circle cx="198.4" cy="329.5" r="2.35"/><circle cx="205.5" cy="329.0" r="2.35"/><circle cx="193.9" cy="347.6" r="2.35"/><circle cx="166.2" cy="347.1" r="2.35"/><circle cx="176.8" cy="351.2" r="2.35"/><circle cx="170.2" cy="360.6" r="2.35"/><circle cx="180.9" cy="359.8" r="2.35"/><circle cx="161.1" cy="356.1" r="2.35"/><circle cx="161.7" cy="361.0" r="2.35"/><circle cx="184.7" cy="356.9" r="2.35"/><circle cx="167.7" cy="359.8" r="2.35"/><circle cx="195.4" cy="357.1" r="2.35"/><circle cx="181.7" cy="360.2" r="2.35"/><circle cx="188.8" cy="358.6" r="2.35"/><circle cx="169.1" cy="360.3" r="2.35"/><circle cx="184.6" cy="360.0" r="2.35"/><circle cx="173.4" cy="361.2" r="2.35"/><circle cx="187.6" cy="358.0" r="2.35"/><circle cx="186.8" cy="357.4" r="2.35"/><circle cx="162.1" cy="356.4" r="2.35"/><circle cx="174.9" cy="359.6" r="2.35"/><circle cx="166.9" cy="358.1" r="2.35"/><circle cx="171.5" cy="361.2" r="2.35"/><circle cx="165.5" cy="358.0" r="2.35"/><circle cx="167.7" cy="358.3" r="2.35"/><circle cx="182.2" cy="357.1" r="2.35"/><circle cx="168.0" cy="359.2" r="2.35"/><circle cx="173.0" cy="359.8" r="2.35"/><circle cx="165.1" cy="356.2" r="2.35"/><circle cx="201.3" cy="356.3" r="2.35"/><circle cx="162.3" cy="359.0" r="2.35"/><circle cx="191.4" cy="356.7" r="2.35"/><circle cx="184.9" cy="360.4" r="2.35"/><circle cx="195.6" cy="358.3" r="2.35"/><circle cx="168.2" cy="354.6" r="2.35"/><circle cx="189.5" cy="357.0" r="2.35"/><circle cx="174.3" cy="360.7" r="2.35"/><circle cx="178.4" cy="367.3" r="2.35"/><circle cx="183.5" cy="365.4" r="2.35"/><circle cx="173.0" cy="369.0" r="2.35"/><circle cx="180.4" cy="367.4" r="2.35"/><circle cx="177.5" cy="367.3" r="2.35"/><circle cx="180.3" cy="365.9" r="2.35"/><circle cx="178.4" cy="366.4" r="2.35"/><circle cx="177.4" cy="366.2" r="2.35"/><circle cx="165.0" cy="366.9" r="2.35"/><circle cx="173.0" cy="368.0" r="2.35"/><circle cx="176.0" cy="369.3" r="2.35"/><circle cx="165.4" cy="369.9" r="2.35"/><circle cx="170.4" cy="368.7" r="2.35"/><circle cx="169.0" cy="366.6" r="2.35"/><circle cx="170.7" cy="366.9" r="2.35"/><circle cx="171.4" cy="368.9" r="2.35"/><circle cx="290.5" cy="334.5" r="2.35"/><circle cx="333.4" cy="333.2" r="2.35"/><circle cx="288.8" cy="333.0" r="2.35"/><circle cx="309.4" cy="332.3" r="2.35"/><circle cx="286.1" cy="327.2" r="2.35"/><circle cx="326.1" cy="327.0" r="2.35"/><circle cx="316.5" cy="330.1" r="2.35"/><circle cx="292.4" cy="327.5" r="2.35"/><circle cx="309.1" cy="329.2" r="2.35"/><circle cx="282.1" cy="332.9" r="2.35"/><circle cx="297.1" cy="330.5" r="2.35"/><circle cx="288.8" cy="331.8" r="2.35"/><circle cx="320.3" cy="337.6" r="2.35"/><circle cx="305.5" cy="330.6" r="2.35"/><circle cx="284.7" cy="335.1" r="2.35"/><circle cx="285.6" cy="328.8" r="2.35"/><circle cx="310.5" cy="332.4" r="2.35"/><circle cx="276.4" cy="327.0" r="2.35"/><circle cx="273.1" cy="329.9" r="2.35"/><circle cx="325.8" cy="335.9" r="2.35"/><circle cx="291.7" cy="337.3" r="2.35"/><circle cx="300.3" cy="333.4" r="2.35"/><circle cx="320.6" cy="328.2" r="2.35"/><circle cx="284.6" cy="336.3" r="2.35"/><circle cx="289.4" cy="335.2" r="2.35"/><circle cx="301.6" cy="330.5" r="2.35"/><circle cx="333.3" cy="334.1" r="2.35"/><circle cx="278.0" cy="330.1" r="2.35"/><circle cx="287.8" cy="337.4" r="2.35"/><circle cx="313.6" cy="329.4" r="2.35"/><circle cx="299.2" cy="328.4" r="2.35"/><circle cx="273.3" cy="332.8" r="2.35"/><circle cx="298.8" cy="330.8" r="2.35"/><circle cx="326.0" cy="335.5" r="2.35"/><circle cx="327.4" cy="334.4" r="2.35"/><circle cx="333.4" cy="357.0" r="2.35"/><circle cx="324.1" cy="356.0" r="2.35"/><circle cx="320.4" cy="350.0" r="2.35"/><circle cx="316.8" cy="353.4" r="2.35"/><circle cx="321.5" cy="352.7" r="2.35"/><circle cx="329.3" cy="349.7" r="2.35"/><circle cx="329.0" cy="352.9" r="2.35"/><circle cx="317.4" cy="353.9" r="2.35"/><circle cx="330.2" cy="350.8" r="2.35"/><circle cx="329.5" cy="357.6" r="2.35"/><circle cx="320.7" cy="357.8" r="2.35"/><circle cx="321.2" cy="352.8" r="2.35"/><circle cx="328.9" cy="350.9" r="2.35"/><circle cx="324.4" cy="355.3" r="2.35"/><circle cx="346.2" cy="353.2" r="2.35"/><circle cx="354.4" cy="358.2" r="2.35"/><circle cx="344.6" cy="355.4" r="2.35"/><circle cx="344.4" cy="356.8" r="2.35"/><circle cx="356.0" cy="357.8" r="2.35"/><circle cx="354.6" cy="357.6" r="2.35"/><circle cx="347.8" cy="354.6" r="2.35"/><circle cx="244.4" cy="373.3" r="2.35"/><circle cx="248.3" cy="363.4" r="2.35"/><circle cx="248.6" cy="376.3" r="2.35"/><circle cx="253.1" cy="369.3" r="2.35"/><circle cx="243.8" cy="374.1" r="2.35"/><circle cx="251.9" cy="365.3" r="2.35"/><circle cx="253.4" cy="374.7" r="2.35"/><circle cx="246.1" cy="377.0" r="2.35"/><circle cx="228.2" cy="378.8" r="2.35"/><circle cx="222.0" cy="374.5" r="2.35"/><circle cx="227.4" cy="368.8" r="2.35"/><circle cx="219.6" cy="368.0" r="2.35"/><circle cx="234.7" cy="378.4" r="2.35"/><circle cx="217.8" cy="372.2" r="2.35"/><circle cx="228.9" cy="373.6" r="2.35"/><circle cx="228.8" cy="374.9" r="2.35"/><circle cx="224.1" cy="385.8" r="2.35"/><circle cx="257.5" cy="382.8" r="2.35"/><circle cx="225.1" cy="383.7" r="2.35"/><circle cx="214.2" cy="385.6" r="2.35"/><circle cx="243.5" cy="387.2" r="2.35"/><circle cx="234.0" cy="384.4" r="2.35"/><circle cx="216.9" cy="383.9" r="2.35"/><circle cx="218.9" cy="384.9" r="2.35"/><circle cx="238.8" cy="386.4" r="2.35"/><circle cx="249.7" cy="386.5" r="2.35"/><circle cx="253.8" cy="385.4" r="2.35"/><circle cx="231.1" cy="388.7" r="2.35"/><circle cx="217.6" cy="385.8" r="2.35"/><circle cx="254.4" cy="384.5" r="2.35"/><circle cx="212.5" cy="385.8" r="2.35"/><circle cx="248.3" cy="384.2" r="2.35"/><circle cx="213.1" cy="386.1" r="2.35"/><circle cx="223.0" cy="387.7" r="2.35"/><circle cx="233.3" cy="384.5" r="2.35"/><circle cx="231.4" cy="386.3" r="2.35"/><circle cx="252.5" cy="385.6" r="2.35"/><circle cx="221.7" cy="384.0" r="2.35"/><circle cx="241.6" cy="384.3" r="2.35"/><circle cx="247.6" cy="385.3" r="2.35"/><circle cx="241.2" cy="383.8" r="2.35"/><circle cx="235.2" cy="385.8" r="2.35"/><circle cx="236.7" cy="385.6" r="2.35"/><circle cx="222.4" cy="385.5" r="2.35"/><circle cx="269.0" cy="376.2" r="2.35"/><circle cx="266.2" cy="373.3" r="2.35"/><circle cx="267.5" cy="377.4" r="2.35"/><circle cx="263.4" cy="374.4" r="2.35"/><circle cx="269.9" cy="373.1" r="2.35"/><circle cx="272.0" cy="373.9" r="2.35"/><circle cx="262.6" cy="376.0" r="2.35"/><circle cx="264.9" cy="376.5" r="2.35"/><circle cx="264.4" cy="375.0" r="2.35"/><circle cx="137.0" cy="375.9" r="2.35"/><circle cx="143.0" cy="376.3" r="2.35"/><circle cx="145.0" cy="375.9" r="2.35"/><circle cx="153.0" cy="371.9" r="2.35"/><circle cx="152.0" cy="372.9" r="2.35"/><circle cx="161.9" cy="360.0" r="2.35"/><circle cx="165.9" cy="356.0" r="2.35"/><circle cx="172.9" cy="361.0" r="2.35"/><circle cx="178.9" cy="360.0" r="2.35"/><circle cx="180.9" cy="367.0" r="2.35"/><circle cx="184.9" cy="359.0" r="2.35"/><circle cx="187.9" cy="366.0" r="2.35"/><circle cx="193.8" cy="362.0" r="2.35"/><circle cx="199.8" cy="365.0" r="2.35"/><circle cx="203.8" cy="361.0" r="2.35"/><circle cx="171.9" cy="369.0" r="2.35"/><circle cx="175.9" cy="368.0" r="2.35"/><circle cx="167.9" cy="370.0" r="2.35"/><circle cx="243.7" cy="384.9" r="2.35"/><circle cx="246.7" cy="383.9" r="2.35"/><circle cx="249.7" cy="384.3" r="2.35"/><circle cx="141.5" cy="248.1" r="2.35"/><circle cx="183.5" cy="252.0" r="2.35"/><circle cx="159.5" cy="251.3" r="2.35"/><circle cx="143.9" cy="249.1" r="2.35"/><circle cx="156.0" cy="255.6" r="2.35"/><circle cx="149.8" cy="250.8" r="2.35"/><circle cx="184.6" cy="253.5" r="2.35"/><circle cx="154.4" cy="252.2" r="2.35"/><circle cx="151.4" cy="249.3" r="2.35"/><circle cx="119.0" cy="243.9" r="2.35"/><circle cx="165.8" cy="252.2" r="2.35"/><circle cx="174.8" cy="251.0" r="2.35"/><circle cx="135.0" cy="248.1" r="2.35"/><circle cx="131.3" cy="242.2" r="2.35"/><circle cx="142.9" cy="250.0" r="2.35"/><circle cx="181.9" cy="249.8" r="2.35"/><circle cx="161.0" cy="250.9" r="2.35"/><circle cx="139.1" cy="249.7" r="2.35"/><circle cx="147.2" cy="249.4" r="2.35"/><circle cx="148.3" cy="251.3" r="2.35"/><circle cx="171.5" cy="247.9" r="2.35"/><circle cx="175.6" cy="248.1" r="2.35"/><circle cx="167.9" cy="251.5" r="2.35"/><circle cx="137.7" cy="246.0" r="2.35"/><circle cx="87.9" cy="236.9" r="2.35"/><circle cx="89.5" cy="240.9" r="2.35"/><circle cx="90.9" cy="242.9" r="2.35"/><circle cx="89.9" cy="248.9" r="2.35"/><circle cx="91.9" cy="251.9" r="2.35"/><circle cx="93.9" cy="252.9" r="2.35"/><circle cx="88.9" cy="251.5" r="2.35"/><circle cx="91.5" cy="246.9" r="2.35"/><circle cx="102.9" cy="283.8" r="2.35"/><circle cx="104.3" cy="286.2" r="2.35"/><circle cx="105.5" cy="288.8" r="2.35"/><circle cx="103.9" cy="281.8" r="2.35"/></g>
<g fill="#3182bd" fill-opacity="0.5"><circle cx="89.9" cy="57.9" r="2.35"/><circle cx="95.5" cy="61.7" r="2.35"/><circle cx="109.1" cy="57.9" r="2.35"/><circle cx="107.9" cy="62.5" r="2.35"/><circle cx="87.5" cy="70.3" r="2.35"/><circle cx="87.9" cy="72.3" r="2.35"/><circle cx="93.5" cy="74.5" r="2.35"/><circle cx="98.3" cy="77.3" r="2.35"/><circle cx="90.9" cy="80.9" r="2.35"/><circle cx="102.5" cy="81.3" r="2.35"/><circle cx="104.9" cy="83.9" r="2.35"/><circle cx="106.5" cy="84.3" r="2.35"/><circle cx="107.9" cy="87.1" r="2.35"/><circle cx="112.3" cy="82.9" r="2.35"/><circle cx="116.3" cy="86.1" r="2.35"/><circle cx="89.9" cy="92.7" r="2.35"/><circle cx="103.1" cy="93.6" r="2.35"/><circle cx="112.9" cy="95.0" r="2.35"/><circle cx="115.7" cy="97.8" r="2.35"/><circle cx="90.9" cy="99.8" r="2.35"/><circle cx="105.9" cy="100.0" r="2.35"/><circle cx="83.9" cy="106.0" r="2.35"/><circle cx="91.9" cy="105.8" r="2.35"/><circle cx="88.5" cy="109.8" r="2.35"/><circle cx="91.3" cy="111.0" r="2.35"/><circle cx="105.1" cy="109.8" r="2.35"/><circle cx="89.9" cy="117.8" r="2.35"/><circle cx="88.9" cy="121.4" r="2.35"/><circle cx="90.1" cy="124.6" r="2.35"/><circle cx="105.5" cy="122.6" r="2.35"/><circle cx="107.3" cy="128.2" r="2.35"/><circle cx="108.5" cy="131.4" r="2.35"/><circle cx="95.5" cy="132.9" r="2.35"/><circle cx="144.6" cy="74.3" r="2.35"/><circle cx="152.2" cy="79.5" r="2.35"/><circle cx="153.4" cy="81.9" r="2.35"/><circle cx="154.6" cy="83.9" r="2.35"/><circle cx="155.6" cy="85.9" r="2.35"/><circle cx="156.1" cy="87.5" r="2.35"/><circle cx="156.3" cy="89.3" r="2.35"/><circle cx="161.3" cy="91.9" r="2.35"/><circle cx="156.1" cy="95.4" r="2.35"/><circle cx="159.7" cy="95.0" r="2.35"/><circle cx="161.3" cy="98.8" r="2.35"/><circle cx="160.3" cy="102.8" r="2.35"/><circle cx="161.3" cy="103.8" r="2.35"/><circle cx="165.5" cy="105.0" r="2.35"/><circle cx="169.5" cy="110.8" r="2.35"/><circle cx="165.9" cy="112.0" r="2.35"/><circle cx="168.3" cy="112.4" r="2.35"/><circle cx="167.9" cy="114.8" r="2.35"/><circle cx="173.1" cy="117.0" r="2.35"/><circle cx="167.9" cy="117.8" r="2.35"/><circle cx="157.7" cy="125.4" r="2.35"/><circle cx="160.5" cy="126.8" r="2.35"/><circle cx="165.7" cy="123.0" r="2.35"/><circle cx="170.5" cy="122.2" r="2.35"/><circle cx="171.1" cy="123.2" r="2.35"/><circle cx="173.9" cy="122.6" r="2.35"/><circle cx="177.5" cy="123.8" r="2.35"/><circle cx="169.7" cy="126.8" r="2.35"/><circle cx="174.7" cy="129.8" r="2.35"/><circle cx="177.7" cy="127.8" r="2.35"/><circle cx="181.7" cy="123.8" r="2.35"/><circle cx="184.5" cy="123.0" r="2.35"/><circle cx="188.3" cy="126.2" r="2.35"/><circle cx="183.7" cy="128.2" r="2.35"/><circle cx="179.7" cy="129.8" r="2.35"/><circle cx="176.3" cy="131.7" r="2.35"/><circle cx="181.7" cy="131.7" r="2.35"/><circle cx="189.7" cy="132.1" r="2.35"/><circle cx="163.7" cy="132.1" r="2.35"/><circle cx="173.7" cy="129.8" r="2.35"/><circle cx="185.1" cy="129.8" r="2.35"/><circle cx="212.6" cy="125.8" r="2.35"/><circle cx="232.9" cy="112.4" r="2.35"/><circle cx="226.2" cy="116.8" r="2.35"/><circle cx="245.3" cy="118.4" r="2.35"/><circle cx="238.3" cy="121.4" r="2.35"/><circle cx="230.6" cy="122.8" r="2.35"/><circle cx="232.5" cy="122.4" r="2.35"/><circle cx="215.0" cy="126.0" r="2.35"/><circle cx="224.4" cy="125.8" r="2.35"/><circle cx="221.0" cy="128.8" r="2.35"/><circle cx="235.3" cy="127.8" r="2.35"/><circle cx="245.7" cy="127.2" r="2.35"/><circle cx="250.1" cy="129.0" r="2.35"/><circle cx="254.3" cy="125.8" r="2.35"/><circle cx="254.9" cy="127.8" r="2.35"/><circle cx="257.7" cy="129.2" r="2.35"/><circle cx="237.3" cy="132.9" r="2.35"/><circle cx="251.9" cy="132.9" r="2.35"/><circle cx="260.5" cy="132.9" r="2.35"/><circle cx="266.5" cy="132.9" r="2.35"/><circle cx="225.4" cy="132.9" r="2.35"/><circle cx="95.9" cy="134.6" r="2.35"/><circle cx="107.9" cy="133.0" r="2.35"/><circle cx="107.3" cy="141.0" r="2.35"/><circle cx="110.3" cy="138.6" r="2.35"/><circle cx="110.9" cy="142.0" r="2.35"/><circle cx="110.1" cy="147.0" r="2.35"/><circle cx="114.3" cy="145.8" r="2.35"/><circle cx="112.3" cy="152.0" r="2.35"/><circle cx="92.3" cy="152.1" r="2.35"/><circle cx="117.8" cy="149.0" r="2.35"/><circle cx="119.0" cy="152.9" r="2.35"/><circle cx="120.8" cy="155.9" r="2.35"/><circle cx="123.8" cy="162.5" r="2.35"/><circle cx="120.0" cy="165.9" r="2.35"/><circle cx="124.6" cy="164.5" r="2.35"/><circle cx="120.8" cy="169.9" r="2.35"/><circle cx="127.0" cy="169.3" r="2.35"/><circle cx="128.8" cy="171.3" r="2.35"/><circle cx="93.9" cy="175.9" r="2.35"/><circle cx="98.9" cy="180.9" r="2.35"/><circle cx="121.8" cy="177.9" r="2.35"/><circle cx="124.8" cy="180.5" r="2.35"/><circle cx="129.2" cy="175.9" r="2.35"/><circle cx="131.4" cy="172.9" r="2.35"/><circle cx="134.2" cy="175.3" r="2.35"/><circle cx="135.8" cy="179.9" r="2.35"/><circle cx="128.8" cy="185.9" r="2.35"/><circle cx="131.8" cy="184.5" r="2.35"/><circle cx="137.0" cy="164.5" r="2.35"/><circle cx="142.8" cy="168.5" r="2.35"/><circle cx="144.8" cy="169.9" r="2.35"/><circle cx="145.4" cy="171.9" r="2.35"/><circle cx="139.8" cy="174.9" r="2.35"/><circle cx="143.8" cy="179.9" r="2.35"/><circle cx="147.8" cy="180.9" r="2.35"/><circle cx="152.4" cy="175.9" r="2.35"/><circle cx="153.2" cy="181.9" r="2.35"/><circle cx="140.8" cy="185.9" r="2.35"/><circle cx="141.8" cy="189.9" r="2.35"/><circle cx="144.8" cy="192.8" r="2.35"/><circle cx="120.2" cy="192.4" r="2.35"/><circle cx="123.4" cy="193.8" r="2.35"/><circle cx="126.8" cy="196.4" r="2.35"/><circle cx="130.4" cy="191.2" r="2.35"/><circle cx="137.8" cy="195.8" r="2.35"/><circle cx="144.8" cy="196.8" r="2.35"/><circle cx="143.8" cy="200.8" r="2.35"/><circle cx="144.8" cy="203.8" r="2.35"/><circle cx="142.8" cy="206.8" r="2.35"/><circle cx="95.1" cy="203.2" r="2.35"/><circle cx="99.1" cy="207.2" r="2.35"/><circle cx="127.8" cy="201.8" r="2.35"/><circle cx="130.2" cy="204.4" r="2.35"/><circle cx="128.8" cy="210.8" r="2.35"/><circle cx="102.9" cy="218.4" r="2.35"/><circle cx="105.5" cy="220.4" r="2.35"/><circle cx="107.9" cy="222.8" r="2.35"/><circle cx="112.9" cy="227.8" r="2.35"/><circle cx="126.8" cy="223.2" r="2.35"/><circle cx="127.8" cy="225.2" r="2.35"/><circle cx="134.8" cy="218.4" r="2.35"/><circle cx="135.8" cy="228.7" r="2.35"/><circle cx="143.4" cy="211.8" r="2.35"/><circle cx="146.2" cy="213.8" r="2.35"/><circle cx="148.8" cy="212.8" r="2.35"/><circle cx="151.8" cy="211.8" r="2.35"/><circle cx="145.8" cy="218.8" r="2.35"/><circle cx="147.8" cy="221.8" r="2.35"/><circle cx="152.8" cy="222.8" r="2.35"/><circle cx="153.8" cy="225.8" r="2.35"/><circle cx="157.7" cy="223.8" r="2.35"/><circle cx="160.7" cy="226.8" r="2.35"/><circle cx="162.7" cy="224.4" r="2.35"/><circle cx="167.7" cy="224.8" r="2.35"/><circle cx="154.8" cy="203.8" r="2.35"/><circle cx="153.4" cy="192.8" r="2.35"/><circle cx="155.7" cy="189.9" r="2.35"/><circle cx="157.7" cy="191.8" r="2.35"/><circle cx="154.8" cy="186.9" r="2.35"/><circle cx="158.7" cy="184.9" r="2.35"/><circle cx="162.1" cy="184.5" r="2.35"/><circle cx="164.7" cy="174.9" r="2.35"/><circle cx="165.7" cy="175.3" r="2.35"/><circle cx="163.7" cy="190.8" r="2.35"/><circle cx="165.7" cy="192.8" r="2.35"/><circle cx="168.7" cy="189.9" r="2.35"/><circle cx="167.7" cy="194.8" r="2.35"/><circle cx="164.7" cy="196.8" r="2.35"/><circle cx="170.7" cy="196.8" r="2.35"/><circle cx="174.7" cy="197.8" r="2.35"/><circle cx="171.7" cy="186.9" r="2.35"/><circle cx="174.1" cy="180.9" r="2.35"/><circle cx="176.7" cy="182.9" r="2.35"/><circle cx="179.3" cy="175.9" r="2.35"/><circle cx="181.1" cy="170.9" r="2.35"/><circle cx="181.3" cy="182.9" r="2.35"/><circle cx="182.7" cy="184.9" r="2.35"/><circle cx="179.7" cy="190.8" r="2.35"/><circle cx="181.7" cy="194.8" r="2.35"/><circle cx="184.7" cy="197.8" r="2.35"/><circle cx="177.7" cy="203.8" r="2.35"/><circle cx="179.7" cy="207.8" r="2.35"/><circle cx="173.7" cy="205.8" r="2.35"/><circle cx="169.7" cy="208.8" r="2.35"/><circle cx="171.7" cy="214.4" r="2.35"/><circle cx="174.7" cy="217.8" r="2.35"/><circle cx="177.7" cy="220.8" r="2.35"/><circle cx="181.7" cy="222.8" r="2.35"/><circle cx="184.7" cy="219.8" r="2.35"/><circle cx="190.1" cy="214.8" r="2.35"/><circle cx="187.7" cy="226.8" r="2.35"/><circle cx="192.7" cy="226.8" r="2.35"/><circle cx="200.6" cy="226.8" r="2.35"/><circle cx="176.7" cy="225.8" r="2.35"/><circle cx="192.7" cy="203.8" r="2.35"/><circle cx="195.6" cy="203.8" r="2.35"/><circle cx="191.7" cy="185.9" r="2.35"/><circle cx="194.6" cy="187.9" r="2.35"/><circle cx="197.6" cy="190.8" r="2.35"/><circle cx="202.6" cy="191.8" r="2.35"/><circle cx="200.6" cy="194.8" r="2.35"/><circle cx="203.6" cy="196.4" r="2.35"/><circle cx="207.6" cy="188.9" r="2.35"/><circle cx="209.6" cy="191.8" r="2.35"/><circle cx="211.6" cy="186.9" r="2.35"/><circle cx="208.6" cy="197.8" r="2.35"/><circle cx="209.6" cy="201.8" r="2.35"/><circle cx="212.6" cy="202.8" r="2.35"/><circle cx="185.7" cy="172.9" r="2.35"/><circle cx="188.7" cy="175.9" r="2.35"/><circle cx="190.7" cy="172.9" r="2.35"/><circle cx="193.3" cy="169.9" r="2.35"/><circle cx="194.0" cy="174.9" r="2.35"/><circle cx="196.2" cy="175.9" r="2.35"/><circle cx="197.2" cy="162.9" r="2.35"/><circle cx="198.6" cy="164.9" r="2.35"/><circle cx="200.6" cy="169.9" r="2.35"/><circle cx="202.0" cy="170.5" r="2.35"/><circle cx="200.8" cy="178.5" r="2.35"/><circle cx="198.6" cy="156.9" r="2.35"/><circle cx="199.6" cy="158.9" r="2.35"/><circle cx="199.2" cy="148.0" r="2.35"/><circle cx="204.6" cy="152.5" r="2.35"/><circle cx="205.6" cy="155.9" r="2.35"/><circle cx="211.6" cy="156.5" r="2.35"/><circle cx="212.6" cy="162.9" r="2.35"/><circle cx="206.2" cy="139.4" r="2.35"/><circle cx="208.6" cy="146.0" r="2.35"/><circle cx="212.0" cy="145.4" r="2.35"/><circle cx="163.7" cy="133.0" r="2.35"/><circle cx="168.7" cy="136.0" r="2.35"/><circle cx="167.7" cy="139.0" r="2.35"/><circle cx="171.7" cy="142.6" r="2.35"/><circle cx="174.1" cy="141.0" r="2.35"/><circle cx="175.7" cy="136.0" r="2.35"/><circle cx="177.7" cy="134.0" r="2.35"/><circle cx="179.7" cy="138.0" r="2.35"/><circle cx="181.7" cy="142.0" r="2.35"/><circle cx="182.7" cy="145.4" r="2.35"/><circle cx="184.7" cy="141.0" r="2.35"/><circle cx="186.7" cy="142.0" r="2.35"/><circle cx="187.7" cy="139.0" r="2.35"/><circle cx="189.7" cy="135.0" r="2.35"/><circle cx="191.7" cy="137.0" r="2.35"/><circle cx="190.7" cy="140.0" r="2.35"/><circle cx="188.7" cy="145.0" r="2.35"/><circle cx="187.7" cy="148.0" r="2.35"/><circle cx="181.3" cy="150.6" r="2.35"/><circle cx="188.7" cy="152.9" r="2.35"/><circle cx="193.3" cy="148.0" r="2.35"/><circle cx="218.0" cy="135.4" r="2.35"/><circle cx="224.0" cy="136.6" r="2.35"/><circle cx="226.0" cy="134.6" r="2.35"/><circle cx="219.0" cy="140.6" r="2.35"/><circle cx="220.0" cy="145.4" r="2.35"/><circle cx="226.0" cy="149.0" r="2.35"/><circle cx="214.0" cy="145.4" r="2.35"/><circle cx="214.6" cy="150.6" r="2.35"/><circle cx="222.0" cy="156.5" r="2.35"/><circle cx="213.0" cy="156.9" r="2.35"/><circle cx="215.0" cy="162.3" r="2.35"/><circle cx="220.0" cy="164.3" r="2.35"/><circle cx="223.4" cy="165.5" r="2.35"/><circle cx="230.6" cy="164.9" r="2.35"/><circle cx="236.3" cy="164.7" r="2.35"/><circle cx="226.6" cy="171.5" r="2.35"/><circle cx="229.0" cy="171.3" r="2.35"/><circle cx="230.6" cy="170.9" r="2.35"/><circle cx="220.0" cy="176.9" r="2.35"/><circle cx="243.3" cy="172.9" r="2.35"/><circle cx="239.9" cy="177.3" r="2.35"/><circle cx="242.9" cy="178.5" r="2.35"/><circle cx="242.5" cy="180.9" r="2.35"/><circle cx="237.9" cy="181.9" r="2.35"/><circle cx="239.9" cy="182.5" r="2.35"/><circle cx="238.9" cy="185.3" r="2.35"/><circle cx="237.9" cy="187.9" r="2.35"/><circle cx="245.3" cy="184.5" r="2.35"/><circle cx="248.9" cy="185.3" r="2.35"/><circle cx="250.5" cy="185.9" r="2.35"/><circle cx="251.9" cy="188.9" r="2.35"/><circle cx="250.9" cy="191.4" r="2.35"/><circle cx="254.9" cy="190.3" r="2.35"/><circle cx="244.9" cy="191.8" r="2.35"/><circle cx="234.5" cy="192.8" r="2.35"/><circle cx="227.4" cy="192.0" r="2.35"/><circle cx="240.3" cy="195.4" r="2.35"/><circle cx="216.6" cy="186.9" r="2.35"/><circle cx="214.6" cy="187.3" r="2.35"/><circle cx="217.0" cy="193.8" r="2.35"/><circle cx="215.0" cy="196.4" r="2.35"/><circle cx="213.0" cy="198.8" r="2.35"/><circle cx="219.0" cy="200.8" r="2.35"/><circle cx="223.4" cy="201.2" r="2.35"/><circle cx="213.0" cy="202.8" r="2.35"/><circle cx="214.0" cy="208.8" r="2.35"/><circle cx="230.6" cy="202.8" r="2.35"/><circle cx="228.0" cy="206.4" r="2.35"/><circle cx="237.3" cy="200.8" r="2.35"/><circle cx="236.9" cy="202.8" r="2.35"/><circle cx="249.9" cy="197.2" r="2.35"/><circle cx="248.9" cy="199.8" r="2.35"/><circle cx="249.5" cy="201.8" r="2.35"/><circle cx="251.9" cy="202.8" r="2.35"/><circle cx="245.9" cy="205.8" r="2.35"/><circle cx="247.9" cy="207.8" r="2.35"/><circle cx="257.9" cy="207.2" r="2.35"/><circle cx="258.5" cy="202.4" r="2.35"/><circle cx="261.5" cy="203.2" r="2.35"/><circle cx="261.9" cy="205.2" r="2.35"/><circle cx="264.5" cy="201.8" r="2.35"/><circle cx="267.9" cy="200.8" r="2.35"/><circle cx="261.3" cy="185.9" r="2.35"/><circle cx="266.5" cy="187.3" r="2.35"/><circle cx="275.8" cy="187.9" r="2.35"/><circle cx="278.4" cy="184.3" r="2.35"/><circle cx="274.8" cy="189.3" r="2.35"/><circle cx="275.8" cy="194.8" r="2.35"/><circle cx="276.4" cy="196.8" r="2.35"/><circle cx="276.4" cy="201.8" r="2.35"/><circle cx="275.2" cy="205.8" r="2.35"/><circle cx="274.8" cy="208.8" r="2.35"/><circle cx="270.8" cy="208.4" r="2.35"/><circle cx="266.5" cy="209.2" r="2.35"/><circle cx="264.9" cy="213.8" r="2.35"/><circle cx="268.9" cy="214.4" r="2.35"/><circle cx="272.8" cy="213.8" r="2.35"/><circle cx="277.8" cy="213.8" r="2.35"/><circle cx="268.9" cy="216.8" r="2.35"/><circle cx="259.9" cy="215.4" r="2.35"/><circle cx="255.5" cy="213.8" r="2.35"/><circle cx="256.9" cy="216.4" r="2.35"/><circle cx="250.5" cy="216.8" r="2.35"/><circle cx="250.9" cy="218.8" r="2.35"/><circle cx="240.9" cy="210.8" r="2.35"/><circle cx="241.9" cy="213.8" r="2.35"/><circle cx="244.9" cy="213.8" r="2.35"/><circle cx="235.3" cy="213.8" r="2.35"/><circle cx="236.5" cy="215.8" r="2.35"/><circle cx="234.9" cy="219.8" r="2.35"/><circle cx="230.0" cy="219.8" r="2.35"/><circle cx="227.4" cy="216.8" r="2.35"/><circle cx="221.4" cy="210.8" r="2.35"/><circle cx="220.0" cy="212.8" r="2.35"/><circle cx="222.0" cy="212.8" r="2.35"/><circle cx="219.6" cy="224.4" r="2.35"/><circle cx="225.0" cy="226.8" r="2.35"/><circle cx="229.0" cy="223.8" r="2.35"/><circle cx="231.0" cy="226.8" r="2.35"/><circle cx="232.9" cy="228.7" r="2.35"/><circle cx="239.9" cy="223.8" r="2.35"/><circle cx="238.9" cy="228.7" r="2.35"/><circle cx="243.3" cy="228.7" r="2.35"/><circle cx="249.9" cy="226.8" r="2.35"/><circle cx="251.9" cy="221.8" r="2.35"/><circle cx="254.9" cy="221.8" r="2.35"/><circle cx="256.9" cy="220.8" r="2.35"/><circle cx="253.9" cy="226.8" r="2.35"/><circle cx="255.9" cy="228.7" r="2.35"/><circle cx="261.9" cy="223.8" r="2.35"/><circle cx="266.5" cy="221.8" r="2.35"/><circle cx="267.3" cy="223.8" r="2.35"/><circle cx="273.8" cy="226.8" r="2.35"/><circle cx="280.8" cy="224.8" r="2.35"/><circle cx="278.8" cy="227.2" r="2.35"/><circle cx="288.4" cy="226.8" r="2.35"/><circle cx="290.8" cy="224.4" r="2.35"/><circle cx="290.4" cy="214.8" r="2.35"/><circle cx="283.2" cy="209.8" r="2.35"/><circle cx="283.8" cy="211.8" r="2.35"/><circle cx="285.2" cy="212.8" r="2.35"/><circle cx="289.4" cy="193.8" r="2.35"/><circle cx="296.4" cy="198.4" r="2.35"/><circle cx="289.8" cy="200.8" r="2.35"/><circle cx="293.8" cy="203.2" r="2.35"/><circle cx="294.8" cy="208.2" r="2.35"/><circle cx="298.4" cy="208.8" r="2.35"/><circle cx="300.8" cy="213.8" r="2.35"/><circle cx="302.8" cy="214.8" r="2.35"/><circle cx="303.8" cy="218.4" r="2.35"/><circle cx="300.8" cy="220.2" r="2.35"/><circle cx="304.8" cy="222.4" r="2.35"/><circle cx="306.8" cy="223.8" r="2.35"/><circle cx="307.8" cy="226.4" r="2.35"/><circle cx="310.7" cy="217.8" r="2.35"/><circle cx="311.7" cy="220.8" r="2.35"/><circle cx="315.7" cy="224.4" r="2.35"/><circle cx="316.7" cy="219.8" r="2.35"/><circle cx="319.7" cy="221.2" r="2.35"/><circle cx="314.7" cy="228.7" r="2.35"/><circle cx="262.3" cy="155.3" r="2.35"/><circle cx="265.9" cy="148.6" r="2.35"/><circle cx="266.9" cy="147.0" r="2.35"/><circle cx="267.5" cy="144.6" r="2.35"/><circle cx="271.8" cy="167.9" r="2.35"/><circle cx="271.2" cy="172.3" r="2.35"/><circle cx="268.9" cy="175.3" r="2.35"/><circle cx="272.8" cy="176.5" r="2.35"/><circle cx="273.4" cy="178.5" r="2.35"/><circle cx="236.9" cy="134.0" r="2.35"/><circle cx="240.9" cy="135.4" r="2.35"/><circle cx="251.9" cy="133.6" r="2.35"/><circle cx="260.9" cy="134.6" r="2.35"/><circle cx="262.9" cy="136.0" r="2.35"/><circle cx="266.9" cy="134.6" r="2.35"/><circle cx="268.5" cy="136.0" r="2.35"/><circle cx="106.9" cy="231.6" r="2.35"/><circle cx="118.2" cy="248.4" r="2.35"/><circle cx="119.4" cy="242.4" r="2.35"/><circle cx="132.8" cy="242.4" r="2.35"/><circle cx="134.2" cy="244.4" r="2.35"/><circle cx="138.8" cy="233.6" r="2.35"/><circle cx="140.8" cy="232.0" r="2.35"/><circle cx="139.8" cy="238.0" r="2.35"/><circle cx="143.8" cy="235.0" r="2.35"/><circle cx="148.2" cy="243.0" r="2.35"/><circle cx="149.8" cy="247.6" r="2.35"/><circle cx="153.8" cy="242.0" r="2.35"/><circle cx="155.7" cy="245.0" r="2.35"/><circle cx="154.8" cy="253.9" r="2.35"/><circle cx="157.7" cy="243.0" r="2.35"/><circle cx="159.7" cy="240.0" r="2.35"/><circle cx="161.7" cy="244.0" r="2.35"/><circle cx="164.7" cy="256.9" r="2.35"/><circle cx="159.7" cy="257.9" r="2.35"/><circle cx="154.8" cy="259.9" r="2.35"/><circle cx="150.8" cy="259.5" r="2.35"/><circle cx="147.8" cy="261.9" r="2.35"/><circle cx="148.8" cy="268.9" r="2.35"/><circle cx="155.4" cy="266.9" r="2.35"/><circle cx="160.7" cy="263.9" r="2.35"/><circle cx="162.7" cy="264.9" r="2.35"/><circle cx="135.8" cy="265.5" r="2.35"/><circle cx="129.8" cy="259.5" r="2.35"/><circle cx="130.2" cy="255.9" r="2.35"/><circle cx="135.4" cy="255.5" r="2.35"/><circle cx="136.8" cy="252.9" r="2.35"/><circle cx="139.8" cy="249.9" r="2.35"/><circle cx="141.4" cy="249.0" r="2.35"/><circle cx="119.4" cy="276.9" r="2.35"/><circle cx="137.4" cy="276.3" r="2.35"/><circle cx="139.4" cy="277.9" r="2.35"/><circle cx="123.8" cy="298.8" r="2.35"/><circle cx="149.4" cy="280.9" r="2.35"/><circle cx="154.8" cy="285.5" r="2.35"/><circle cx="159.7" cy="279.9" r="2.35"/><circle cx="162.7" cy="276.3" r="2.35"/><circle cx="163.3" cy="273.9" r="2.35"/><circle cx="163.7" cy="287.8" r="2.35"/><circle cx="168.7" cy="283.9" r="2.35"/><circle cx="172.7" cy="282.9" r="2.35"/><circle cx="174.7" cy="285.9" r="2.35"/><circle cx="177.7" cy="281.5" r="2.35"/><circle cx="180.7" cy="287.8" r="2.35"/><circle cx="164.7" cy="291.8" r="2.35"/><circle cx="165.3" cy="294.8" r="2.35"/><circle cx="165.7" cy="296.8" r="2.35"/><circle cx="169.7" cy="296.8" r="2.35"/><circle cx="178.1" cy="293.8" r="2.35"/><circle cx="165.7" cy="300.8" r="2.35"/><circle cx="167.7" cy="303.8" r="2.35"/><circle cx="186.1" cy="301.8" r="2.35"/><circle cx="186.1" cy="282.9" r="2.35"/><circle cx="188.7" cy="282.3" r="2.35"/><circle cx="191.7" cy="281.9" r="2.35"/><circle cx="195.6" cy="282.9" r="2.35"/><circle cx="199.6" cy="283.9" r="2.35"/><circle cx="202.6" cy="284.9" r="2.35"/><circle cx="203.6" cy="286.9" r="2.35"/><circle cx="200.6" cy="288.8" r="2.35"/><circle cx="197.6" cy="291.8" r="2.35"/><circle cx="192.7" cy="291.8" r="2.35"/><circle cx="193.7" cy="296.8" r="2.35"/><circle cx="187.7" cy="288.8" r="2.35"/><circle cx="184.7" cy="289.8" r="2.35"/><circle cx="204.0" cy="300.8" r="2.35"/><circle cx="207.6" cy="296.8" r="2.35"/><circle cx="211.6" cy="298.8" r="2.35"/><circle cx="170.7" cy="265.9" r="2.35"/><circle cx="173.7" cy="268.9" r="2.35"/><circle cx="170.7" cy="269.9" r="2.35"/><circle cx="177.7" cy="266.9" r="2.35"/><circle cx="180.7" cy="267.9" r="2.35"/><circle cx="182.7" cy="271.9" r="2.35"/><circle cx="185.7" cy="266.9" r="2.35"/><circle cx="187.7" cy="270.9" r="2.35"/><circle cx="189.7" cy="265.9" r="2.35"/><circle cx="190.7" cy="268.9" r="2.35"/><circle cx="192.7" cy="270.9" r="2.35"/><circle cx="186.7" cy="274.9" r="2.35"/><circle cx="182.7" cy="272.9" r="2.35"/><circle cx="179.7" cy="253.9" r="2.35"/><circle cx="181.7" cy="255.9" r="2.35"/><circle cx="183.7" cy="253.9" r="2.35"/><circle cx="174.7" cy="259.9" r="2.35"/><circle cx="171.7" cy="257.9" r="2.35"/><circle cx="175.7" cy="250.9" r="2.35"/><circle cx="177.7" cy="245.0" r="2.35"/><circle cx="179.7" cy="243.0" r="2.35"/><circle cx="180.7" cy="239.0" r="2.35"/><circle cx="182.1" cy="242.0" r="2.35"/><circle cx="185.7" cy="238.0" r="2.35"/><circle cx="173.7" cy="233.0" r="2.35"/><circle cx="174.7" cy="237.0" r="2.35"/><circle cx="177.7" cy="241.0" r="2.35"/><circle cx="194.0" cy="243.6" r="2.35"/><circle cx="198.0" cy="238.0" r="2.35"/><circle cx="201.6" cy="239.0" r="2.35"/><circle cx="204.6" cy="241.0" r="2.35"/><circle cx="208.6" cy="243.6" r="2.35"/><circle cx="210.6" cy="246.0" r="2.35"/><circle cx="211.6" cy="249.9" r="2.35"/><circle cx="203.6" cy="253.9" r="2.35"/><circle cx="205.6" cy="255.9" r="2.35"/><circle cx="208.6" cy="254.9" r="2.35"/><circle cx="204.6" cy="262.9" r="2.35"/><circle cx="209.6" cy="263.9" r="2.35"/><circle cx="202.6" cy="265.9" r="2.35"/><circle cx="212.6" cy="274.9" r="2.35"/><circle cx="209.6" cy="276.9" r="2.35"/><circle cx="207.2" cy="278.9" r="2.35"/><circle cx="190.7" cy="304.8" r="2.35"/><circle cx="187.7" cy="306.8" r="2.35"/><circle cx="206.6" cy="308.8" r="2.35"/><circle cx="207.6" cy="304.8" r="2.35"/><circle cx="179.7" cy="317.8" r="2.35"/><circle cx="181.7" cy="319.8" r="2.35"/><circle cx="177.7" cy="321.8" r="2.35"/><circle cx="181.7" cy="323.8" r="2.35"/><circle cx="184.7" cy="322.8" r="2.35"/><circle cx="174.7" cy="323.8" r="2.35"/><circle cx="179.7" cy="325.7" r="2.35"/><circle cx="187.7" cy="318.8" r="2.35"/><circle cx="211.6" cy="322.8" r="2.35"/><circle cx="207.6" cy="325.7" r="2.35"/><circle cx="123.8" cy="315.8" r="2.35"/><circle cx="122.8" cy="307.8" r="2.35"/><circle cx="367.0" cy="248.0" r="2.35"/><circle cx="371.0" cy="249.5" r="2.35"/><circle cx="376.0" cy="253.9" r="2.35"/><circle cx="378.4" cy="254.3" r="2.35"/><circle cx="380.0" cy="255.5" r="2.35"/><circle cx="384.4" cy="255.9" r="2.35"/><circle cx="381.6" cy="257.9" r="2.35"/><circle cx="380.0" cy="259.9" r="2.35"/><circle cx="383.6" cy="260.9" r="2.35"/><circle cx="385.9" cy="259.9" r="2.35"/><circle cx="388.3" cy="260.3" r="2.35"/><circle cx="391.5" cy="257.5" r="2.35"/><circle cx="389.9" cy="261.5" r="2.35"/><circle cx="392.9" cy="262.3" r="2.35"/><circle cx="395.5" cy="260.9" r="2.35"/><circle cx="367.0" cy="257.9" r="2.35"/><circle cx="370.0" cy="259.9" r="2.35"/><circle cx="373.0" cy="259.9" r="2.35"/><circle cx="375.6" cy="260.3" r="2.35"/><circle cx="368.0" cy="261.9" r="2.35"/><circle cx="380.0" cy="263.9" r="2.35"/><circle cx="383.6" cy="264.9" r="2.35"/><circle cx="385.0" cy="265.9" r="2.35"/><circle cx="382.0" cy="267.5" r="2.35"/><circle cx="385.9" cy="268.3" r="2.35"/><circle cx="390.3" cy="266.9" r="2.35"/><circle cx="381.0" cy="270.9" r="2.35"/><circle cx="380.0" cy="272.9" r="2.35"/><circle cx="388.9" cy="271.9" r="2.35"/><circle cx="392.9" cy="271.9" r="2.35"/><circle cx="396.9" cy="272.9" r="2.35"/><circle cx="397.9" cy="273.3" r="2.35"/><circle cx="402.5" cy="269.9" r="2.35"/><circle cx="406.9" cy="267.5" r="2.35"/><circle cx="404.9" cy="265.5" r="2.35"/><circle cx="401.5" cy="264.3" r="2.35"/><circle cx="398.5" cy="265.9" r="2.35"/><circle cx="407.5" cy="261.5" r="2.35"/><circle cx="408.9" cy="260.9" r="2.35"/><circle cx="417.5" cy="263.9" r="2.35"/><circle cx="430.8" cy="267.9" r="2.35"/><circle cx="424.2" cy="271.9" r="2.35"/><circle cx="440.2" cy="270.9" r="2.35"/><circle cx="459.2" cy="278.1" r="2.35"/><circle cx="407.9" cy="276.9" r="2.35"/><circle cx="407.9" cy="278.9" r="2.35"/><circle cx="390.9" cy="278.5" r="2.35"/><circle cx="387.9" cy="279.3" r="2.35"/><circle cx="374.0" cy="273.5" r="2.35"/><circle cx="368.4" cy="271.9" r="2.35"/><circle cx="368.0" cy="275.9" r="2.35"/><circle cx="373.6" cy="278.9" r="2.35"/><circle cx="480.3" cy="285.3" r="2.35"/><circle cx="482.7" cy="287.3" r="2.35"/><circle cx="478.7" cy="289.8" r="2.35"/><circle cx="474.7" cy="293.4" r="2.35"/><circle cx="484.3" cy="294.8" r="2.35"/><circle cx="481.7" cy="306.4" r="2.35"/><circle cx="445.4" cy="323.0" r="2.35"/><circle cx="428.2" cy="320.2" r="2.35"/><circle cx="414.9" cy="317.8" r="2.35"/><circle cx="374.4" cy="321.8" r="2.35"/><circle cx="389.9" cy="310.8" r="2.35"/><circle cx="373.0" cy="320.2" r="2.35"/><circle cx="539.9" cy="326.3" r="2.35"/><circle cx="200.6" cy="376.9" r="2.35"/><circle cx="197.2" cy="381.3" r="2.35"/><circle cx="200.6" cy="382.9" r="2.35"/><circle cx="208.6" cy="383.9" r="2.35"/><circle cx="212.6" cy="385.8" r="2.35"/><circle cx="212.6" cy="396.8" r="2.35"/><circle cx="210.6" cy="401.2" r="2.35"/><circle cx="230.0" cy="406.8" r="2.35"/><circle cx="233.3" cy="407.8" r="2.35"/><circle cx="220.0" cy="397.4" r="2.35"/><circle cx="225.0" cy="398.4" r="2.35"/><circle cx="229.4" cy="394.8" r="2.35"/><circle cx="215.0" cy="395.8" r="2.35"/><circle cx="213.0" cy="396.8" r="2.35"/><circle cx="217.0" cy="394.8" r="2.35"/><circle cx="214.0" cy="386.8" r="2.35"/><circle cx="213.0" cy="380.9" r="2.35"/><circle cx="215.0" cy="375.9" r="2.35"/><circle cx="214.0" cy="371.9" r="2.35"/><circle cx="221.0" cy="369.9" r="2.35"/><circle cx="225.0" cy="367.9" r="2.35"/><circle cx="226.0" cy="365.3" r="2.35"/><circle cx="222.0" cy="363.9" r="2.35"/><circle cx="219.0" cy="358.9" r="2.35"/><circle cx="222.0" cy="357.9" r="2.35"/><circle cx="228.0" cy="356.9" r="2.35"/><circle cx="232.0" cy="352.9" r="2.35"/><circle cx="230.0" cy="350.9" r="2.35"/><circle cx="228.0" cy="354.9" r="2.35"/><circle cx="224.0" cy="360.9" r="2.35"/><circle cx="232.9" cy="363.9" r="2.35"/><circle cx="234.5" cy="366.9" r="2.35"/><circle cx="240.9" cy="362.9" r="2.35"/><circle cx="242.9" cy="363.9" r="2.35"/><circle cx="249.9" cy="365.9" r="2.35"/><circle cx="250.9" cy="367.9" r="2.35"/><circle cx="254.9" cy="373.9" r="2.35"/><circle cx="249.9" cy="356.9" r="2.35"/><circle cx="257.9" cy="355.9" r="2.35"/><circle cx="257.9" cy="357.9" r="2.35"/><circle cx="264.9" cy="358.5" r="2.35"/><circle cx="269.9" cy="357.9" r="2.35"/><circle cx="262.9" cy="353.9" r="2.35"/><circle cx="255.3" cy="359.3" r="2.35"/><circle cx="261.9" cy="361.9" r="2.35"/><circle cx="264.9" cy="368.9" r="2.35"/><circle cx="265.9" cy="370.9" r="2.35"/><circle cx="262.5" cy="348.9" r="2.35"/><circle cx="267.9" cy="346.9" r="2.35"/><circle cx="248.9" cy="345.0" r="2.35"/><circle cx="249.9" cy="347.9" r="2.35"/><circle cx="255.9" cy="340.6" r="2.35"/><circle cx="240.9" cy="337.4" r="2.35"/><circle cx="228.0" cy="330.6" r="2.35"/><circle cx="225.0" cy="331.4" r="2.35"/><circle cx="240.9" cy="328.0" r="2.35"/><circle cx="247.9" cy="330.0" r="2.35"/><circle cx="258.9" cy="331.4" r="2.35"/><circle cx="260.9" cy="379.9" r="2.35"/><circle cx="265.9" cy="380.9" r="2.35"/><circle cx="263.9" cy="385.2" r="2.35"/><circle cx="266.9" cy="385.8" r="2.35"/><circle cx="270.4" cy="386.4" r="2.35"/><circle cx="268.5" cy="391.8" r="2.35"/><circle cx="262.9" cy="394.4" r="2.35"/><circle cx="266.5" cy="395.8" r="2.35"/><circle cx="270.4" cy="398.2" r="2.35"/><circle cx="276.8" cy="364.9" r="2.35"/><circle cx="281.2" cy="364.9" r="2.35"/><circle cx="276.8" cy="369.9" r="2.35"/><circle cx="280.8" cy="371.3" r="2.35"/><circle cx="277.8" cy="373.9" r="2.35"/><circle cx="281.2" cy="369.9" r="2.35"/><circle cx="280.8" cy="332.0" r="2.35"/><circle cx="282.8" cy="330.0" r="2.35"/><circle cx="278.8" cy="329.0" r="2.35"/><circle cx="285.8" cy="333.0" r="2.35"/><circle cx="296.8" cy="337.0" r="2.35"/><circle cx="298.8" cy="338.0" r="2.35"/><circle cx="293.8" cy="340.0" r="2.35"/><circle cx="300.8" cy="335.0" r="2.35"/><circle cx="305.8" cy="345.4" r="2.35"/><circle cx="307.8" cy="346.0" r="2.35"/><circle cx="312.7" cy="340.0" r="2.35"/><circle cx="313.7" cy="342.0" r="2.35"/><circle cx="310.7" cy="334.0" r="2.35"/><circle cx="315.7" cy="333.0" r="2.35"/><circle cx="317.7" cy="337.0" r="2.35"/><circle cx="320.7" cy="339.4" r="2.35"/><circle cx="321.7" cy="344.0" r="2.35"/><circle cx="322.7" cy="346.0" r="2.35"/><circle cx="319.7" cy="346.9" r="2.35"/><circle cx="320.7" cy="349.9" r="2.35"/><circle cx="327.7" cy="350.9" r="2.35"/><circle cx="329.7" cy="349.9" r="2.35"/><circle cx="331.7" cy="344.0" r="2.35"/><circle cx="332.7" cy="342.0" r="2.35"/><circle cx="335.1" cy="346.0" r="2.35"/><circle cx="336.7" cy="352.9" r="2.35"/><circle cx="332.7" cy="356.9" r="2.35"/><circle cx="333.7" cy="358.9" r="2.35"/><circle cx="327.7" cy="351.9" r="2.35"/><circle cx="324.7" cy="356.9" r="2.35"/><circle cx="320.7" cy="358.9" r="2.35"/><circle cx="322.3" cy="363.9" r="2.35"/><circle cx="323.7" cy="365.9" r="2.35"/><circle cx="327.1" cy="367.9" r="2.35"/><circle cx="315.1" cy="355.9" r="2.35"/><circle cx="315.7" cy="370.5" r="2.35"/><circle cx="317.3" cy="374.5" r="2.35"/><circle cx="323.3" cy="375.5" r="2.35"/><circle cx="323.7" cy="378.9" r="2.35"/><circle cx="322.7" cy="380.9" r="2.35"/><circle cx="328.3" cy="379.9" r="2.35"/><circle cx="330.7" cy="375.9" r="2.35"/><circle cx="328.7" cy="372.9" r="2.35"/><circle cx="327.7" cy="382.9" r="2.35"/><circle cx="324.7" cy="383.5" r="2.35"/><circle cx="320.7" cy="383.5" r="2.35"/><circle cx="317.3" cy="381.9" r="2.35"/><circle cx="312.1" cy="384.8" r="2.35"/><circle cx="313.3" cy="388.8" r="2.35"/><circle cx="337.1" cy="371.9" r="2.35"/><circle cx="337.7" cy="374.9" r="2.35"/><circle cx="341.7" cy="368.9" r="2.35"/><circle cx="346.3" cy="373.3" r="2.35"/><circle cx="348.2" cy="373.9" r="2.35"/><circle cx="347.0" cy="379.3" r="2.35"/><circle cx="352.6" cy="375.9" r="2.35"/><circle cx="355.0" cy="374.9" r="2.35"/><circle cx="352.0" cy="367.9" r="2.35"/><circle cx="357.0" cy="366.9" r="2.35"/><circle cx="352.0" cy="359.9" r="2.35"/><circle cx="360.6" cy="351.9" r="2.35"/><circle cx="344.7" cy="355.9" r="2.35"/><circle cx="346.3" cy="356.9" r="2.35"/><circle cx="331.1" cy="393.4" r="2.35"/><circle cx="332.7" cy="392.8" r="2.35"/><circle cx="340.7" cy="392.8" r="2.35"/><circle cx="345.1" cy="393.8" r="2.35"/><circle cx="345.7" cy="390.8" r="2.35"/><circle cx="338.7" cy="398.2" r="2.35"/><circle cx="295.8" cy="379.3" r="2.35"/><circle cx="298.8" cy="377.3" r="2.35"/><circle cx="302.4" cy="378.9" r="2.35"/><circle cx="305.2" cy="379.9" r="2.35"/><circle cx="306.2" cy="379.3" r="2.35"/><circle cx="333.7" cy="339.0" r="2.35"/><circle cx="329.7" cy="329.0" r="2.35"/><circle cx="326.7" cy="330.0" r="2.35"/><circle cx="325.7" cy="331.0" r="2.35"/><circle cx="350.6" cy="327.0" r="2.35"/><circle cx="364.2" cy="333.0" r="2.35"/><circle cx="352.6" cy="358.9" r="2.35"/><circle cx="366.0" cy="333.0" r="2.35"/><circle cx="382.4" cy="339.4" r="2.35"/><circle cx="399.9" cy="334.4" r="2.35"/><circle cx="400.9" cy="335.2" r="2.35"/><circle cx="408.1" cy="332.4" r="2.35"/><circle cx="408.3" cy="338.4" r="2.35"/><circle cx="421.3" cy="332.8" r="2.35"/><circle cx="426.6" cy="343.8" r="2.35"/><circle cx="412.1" cy="351.5" r="2.35"/><circle cx="408.5" cy="352.1" r="2.35"/><circle cx="406.9" cy="356.3" r="2.35"/><circle cx="445.2" cy="330.6" r="2.35"/><circle cx="441.2" cy="337.4" r="2.35"/><circle cx="448.4" cy="337.4" r="2.35"/><circle cx="440.4" cy="358.1" r="2.35"/><circle cx="461.2" cy="348.5" r="2.35"/><circle cx="462.1" cy="367.9" r="2.35"/><circle cx="472.1" cy="333.4" r="2.35"/><circle cx="471.7" cy="335.6" r="2.35"/><circle cx="474.3" cy="335.4" r="2.35"/><circle cx="477.7" cy="362.1" r="2.35"/><circle cx="484.9" cy="343.2" r="2.35"/><circle cx="491.3" cy="335.4" r="2.35"/><circle cx="499.1" cy="341.8" r="2.35"/><circle cx="494.9" cy="367.3" r="2.35"/><circle cx="518.0" cy="336.0" r="2.35"/><circle cx="519.0" cy="336.0" r="2.35"/><circle cx="530.6" cy="330.0" r="2.35"/><circle cx="539.9" cy="327.0" r="2.35"/><circle cx="544.3" cy="329.6" r="2.35"/><circle cx="537.8" cy="334.4" r="2.35"/><circle cx="524.0" cy="346.3" r="2.35"/><circle cx="539.9" cy="353.5" r="2.35"/><circle cx="544.3" cy="357.9" r="2.35"/><circle cx="558.3" cy="349.9" r="2.35"/><circle cx="565.7" cy="367.5" r="2.35"/><circle cx="574.1" cy="372.1" r="2.35"/><circle cx="545.7" cy="391.4" r="2.35"/><circle cx="566.1" cy="396.2" r="2.35"/><circle cx="590.8" cy="379.9" r="2.35"/><circle cx="601.8" cy="385.0" r="2.35"/><circle cx="609.8" cy="385.8" r="2.35"/><circle cx="610.8" cy="382.9" r="2.35"/><circle cx="614.2" cy="384.8" r="2.35"/><circle cx="610.2" cy="391.2" r="2.35"/><circle cx="622.1" cy="391.4" r="2.35"/><circle cx="623.7" cy="392.4" r="2.35"/><circle cx="628.3" cy="386.4" r="2.35"/><circle cx="628.5" cy="381.7" r="2.35"/><circle cx="632.9" cy="378.3" r="2.35"/><circle cx="636.5" cy="385.0" r="2.35"/><circle cx="642.5" cy="386.8" r="2.35"/><circle cx="591.2" cy="404.6" r="2.35"/><circle cx="614.0" cy="403.4" r="2.35"/><circle cx="619.3" cy="407.0" r="2.35"/><circle cx="637.3" cy="407.2" r="2.35"/><circle cx="588.6" cy="414.4" r="2.35"/><circle cx="621.1" cy="415.4" r="2.35"/><circle cx="176.7" cy="139.0" r="2.35"/><circle cx="178.7" cy="141.4" r="2.35"/><circle cx="180.7" cy="140.0" r="2.35"/><circle cx="182.1" cy="138.0" r="2.35"/><circle cx="183.7" cy="143.0" r="2.35"/><circle cx="185.3" cy="139.0" r="2.35"/><circle cx="186.7" cy="136.0" r="2.35"/><circle cx="188.1" cy="142.6" r="2.35"/><circle cx="189.7" cy="142.0" r="2.35"/><circle cx="191.3" cy="134.6" r="2.35"/><circle cx="192.7" cy="139.0" r="2.35"/><circle cx="179.7" cy="135.0" r="2.35"/><circle cx="174.7" cy="142.0" r="2.35"/><circle cx="181.7" cy="147.0" r="2.35"/><circle cx="187.7" cy="145.0" r="2.35"/><circle cx="177.7" cy="143.4" r="2.35"/><circle cx="145.8" cy="181.9" r="2.35"/><circle cx="147.8" cy="183.9" r="2.35"/><circle cx="140.8" cy="182.9" r="2.35"/><circle cx="150.8" cy="185.9" r="2.35"/><circle cx="152.8" cy="187.9" r="2.35"/><circle cx="155.7" cy="192.8" r="2.35"/><circle cx="157.7" cy="194.8" r="2.35"/><circle cx="154.8" cy="196.8" r="2.35"/><circle cx="159.7" cy="186.9" r="2.35"/><circle cx="161.7" cy="189.9" r="2.35"/><circle cx="163.7" cy="185.9" r="2.35"/><circle cx="166.7" cy="191.8" r="2.35"/><circle cx="156.7" cy="183.9" r="2.35"/><circle cx="158.7" cy="192.8" r="2.35"/><circle cx="142.8" cy="186.9" r="2.35"/><circle cx="140.8" cy="190.8" r="2.35"/><circle cx="143.8" cy="194.8" r="2.35"/><circle cx="145.4" cy="198.8" r="2.35"/><circle cx="143.4" cy="202.8" r="2.35"/><circle cx="144.2" cy="205.8" r="2.35"/><circle cx="145.8" cy="209.8" r="2.35"/><circle cx="147.8" cy="214.8" r="2.35"/><circle cx="149.8" cy="213.8" r="2.35"/><circle cx="144.8" cy="212.8" r="2.35"/><circle cx="146.8" cy="216.8" r="2.35"/><circle cx="148.8" cy="218.8" r="2.35"/><circle cx="150.8" cy="220.8" r="2.35"/><circle cx="189.7" cy="173.9" r="2.35"/><circle cx="191.7" cy="171.9" r="2.35"/><circle cx="192.7" cy="174.9" r="2.35"/><circle cx="194.6" cy="172.9" r="2.35"/><circle cx="195.6" cy="170.9" r="2.35"/><circle cx="191.3" cy="175.9" r="2.35"/><circle cx="196.6" cy="173.9" r="2.35"/><circle cx="205.6" cy="190.8" r="2.35"/><circle cx="207.6" cy="192.8" r="2.35"/><circle cx="209.6" cy="194.8" r="2.35"/><circle cx="210.6" cy="197.8" r="2.35"/><circle cx="208.6" cy="199.8" r="2.35"/><circle cx="211.6" cy="192.8" r="2.35"/><circle cx="206.6" cy="194.8" r="2.35"/><circle cx="212.6" cy="198.8" r="2.35"/><circle cx="116.9" cy="147.0" r="2.35"/><circle cx="118.2" cy="151.0" r="2.35"/><circle cx="119.8" cy="153.9" r="2.35"/><circle cx="126.8" cy="168.9" r="2.35"/><circle cx="127.8" cy="170.5" r="2.35"/><circle cx="129.8" cy="171.9" r="2.35"/><circle cx="109.9" cy="137.0" r="2.35"/><circle cx="108.9" cy="140.6" r="2.35"/><circle cx="162.7" cy="191.8" r="2.35"/><circle cx="165.3" cy="194.8" r="2.35"/><circle cx="168.7" cy="192.8" r="2.35"/><circle cx="169.7" cy="190.8" r="2.35"/><circle cx="171.7" cy="195.8" r="2.35"/><circle cx="167.3" cy="188.9" r="2.35"/><circle cx="173.7" cy="192.8" r="2.35"/><circle cx="170.7" cy="211.8" r="2.35"/><circle cx="172.7" cy="215.8" r="2.35"/><circle cx="175.7" cy="218.8" r="2.35"/><circle cx="179.3" cy="221.8" r="2.35"/><circle cx="182.7" cy="223.8" r="2.35"/><circle cx="171.7" cy="208.8" r="2.35"/><circle cx="168.7" cy="207.8" r="2.35"/><circle cx="185.7" cy="224.8" r="2.35"/><circle cx="189.7" cy="225.8" r="2.35"/><circle cx="191.7" cy="220.8" r="2.35"/><circle cx="197.6" cy="157.9" r="2.35"/><circle cx="198.0" cy="162.5" r="2.35"/><circle cx="199.2" cy="164.5" r="2.35"/><circle cx="602.0" cy="426.1" r="2.35"/><circle cx="229.7" cy="246.0" r="2.35"/><circle cx="226.4" cy="247.2" r="2.35"/><circle cx="224.4" cy="231.8" r="2.35"/><circle cx="224.6" cy="233.3" r="2.35"/><circle cx="223.0" cy="234.8" r="2.35"/><circle cx="213.4" cy="243.7" r="2.35"/><circle cx="213.2" cy="244.1" r="2.35"/><circle cx="215.7" cy="246.3" r="2.35"/><circle cx="216.1" cy="248.5" r="2.35"/><circle cx="216.3" cy="250.0" r="2.35"/><circle cx="229.3" cy="240.5" r="2.35"/><circle cx="230.0" cy="240.4" r="2.35"/><circle cx="216.6" cy="237.8" r="2.35"/><circle cx="213.7" cy="240.4" r="2.35"/><circle cx="215.3" cy="242.7" r="2.35"/><circle cx="229.9" cy="245.4" r="2.35"/><circle cx="231.7" cy="246.4" r="2.35"/><circle cx="233.2" cy="246.4" r="2.35"/><circle cx="233.5" cy="241.7" r="2.35"/><circle cx="232.4" cy="243.9" r="2.35"/><circle cx="230.8" cy="244.3" r="2.35"/><circle cx="229.3" cy="245.2" r="2.35"/><circle cx="229.1" cy="246.6" r="2.35"/><circle cx="227.3" cy="246.5" r="2.35"/><circle cx="218.6" cy="239.3" r="2.35"/><circle cx="216.9" cy="239.6" r="2.35"/><circle cx="214.9" cy="239.4" r="2.35"/><circle cx="212.4" cy="238.9" r="2.35"/><circle cx="221.5" cy="245.8" r="2.35"/><circle cx="225.4" cy="245.2" r="2.35"/><circle cx="226.6" cy="247.6" r="2.35"/><circle cx="239.2" cy="232.9" r="2.35"/><circle cx="240.6" cy="232.8" r="2.35"/><circle cx="243.4" cy="232.7" r="2.35"/><circle cx="246.2" cy="235.6" r="2.35"/><circle cx="247.9" cy="236.3" r="2.35"/><circle cx="230.6" cy="242.8" r="2.35"/><circle cx="232.4" cy="244.5" r="2.35"/><circle cx="234.9" cy="246.2" r="2.35"/><circle cx="237.1" cy="247.0" r="2.35"/><circle cx="236.1" cy="228.7" r="2.35"/><circle cx="238.0" cy="231.4" r="2.35"/><circle cx="248.9" cy="245.3" r="2.35"/><circle cx="248.5" cy="246.8" r="2.35"/><circle cx="248.3" cy="246.9" r="2.35"/><circle cx="249.5" cy="248.2" r="2.35"/><circle cx="232.7" cy="244.9" r="2.35"/><circle cx="232.3" cy="245.7" r="2.35"/><circle cx="234.8" cy="247.5" r="2.35"/><circle cx="236.5" cy="238.6" r="2.35"/><circle cx="236.6" cy="239.8" r="2.35"/><circle cx="233.9" cy="236.4" r="2.35"/><circle cx="234.5" cy="237.2" r="2.35"/><circle cx="233.0" cy="239.2" r="2.35"/><circle cx="233.8" cy="240.6" r="2.35"/><circle cx="233.2" cy="242.9" r="2.35"/><circle cx="232.2" cy="243.2" r="2.35"/><circle cx="244.9" cy="239.4" r="2.35"/><circle cx="244.5" cy="240.9" r="2.35"/><circle cx="243.7" cy="242.6" r="2.35"/><circle cx="234.9" cy="248.2" r="2.35"/><circle cx="271.9" cy="246.4" r="2.35"/><circle cx="271.9" cy="248.5" r="2.35"/><circle cx="270.4" cy="247.8" r="2.35"/><circle cx="268.8" cy="249.7" r="2.35"/><circle cx="266.5" cy="247.9" r="2.35"/><circle cx="251.1" cy="240.6" r="2.35"/><circle cx="253.0" cy="241.7" r="2.35"/><circle cx="267.0" cy="246.8" r="2.35"/><circle cx="264.4" cy="246.4" r="2.35"/><circle cx="261.3" cy="247.8" r="2.35"/><circle cx="260.1" cy="234.5" r="2.35"/><circle cx="258.7" cy="234.4" r="2.35"/><circle cx="260.3" cy="238.8" r="2.35"/><circle cx="260.8" cy="238.1" r="2.35"/><circle cx="260.9" cy="243.2" r="2.35"/><circle cx="262.8" cy="245.1" r="2.35"/><circle cx="266.7" cy="238.7" r="2.35"/><circle cx="264.5" cy="239.0" r="2.35"/><circle cx="252.3" cy="240.7" r="2.35"/><circle cx="250.2" cy="241.1" r="2.35"/><circle cx="254.2" cy="236.8" r="2.35"/><circle cx="251.4" cy="237.6" r="2.35"/><circle cx="249.8" cy="238.5" r="2.35"/><circle cx="264.2" cy="242.4" r="2.35"/><circle cx="260.5" cy="243.4" r="2.35"/><circle cx="259.2" cy="241.4" r="2.35"/><circle cx="265.9" cy="246.5" r="2.35"/><circle cx="264.0" cy="248.4" r="2.35"/><circle cx="271.2" cy="228.6" r="2.35"/><circle cx="272.0" cy="230.9" r="2.35"/><circle cx="274.3" cy="230.9" r="2.35"/><circle cx="276.4" cy="232.6" r="2.35"/><circle cx="271.1" cy="238.9" r="2.35"/><circle cx="271.7" cy="240.9" r="2.35"/><circle cx="270.7" cy="244.8" r="2.35"/><circle cx="269.8" cy="245.6" r="2.35"/><circle cx="286.5" cy="234.3" r="2.35"/><circle cx="286.2" cy="233.5" r="2.35"/><circle cx="284.6" cy="234.0" r="2.35"/><circle cx="282.8" cy="234.9" r="2.35"/><circle cx="285.2" cy="249.5" r="2.35"/><circle cx="284.4" cy="249.7" r="2.35"/><circle cx="279.5" cy="240.0" r="2.35"/><circle cx="276.2" cy="242.8" r="2.35"/><circle cx="281.4" cy="241.2" r="2.35"/><circle cx="281.7" cy="242.4" r="2.35"/><circle cx="271.8" cy="232.3" r="2.35"/><circle cx="274.8" cy="233.1" r="2.35"/><circle cx="274.9" cy="234.7" r="2.35"/><circle cx="284.9" cy="232.5" r="2.35"/><circle cx="288.0" cy="232.4" r="2.35"/><circle cx="273.4" cy="246.2" r="2.35"/><circle cx="306.0" cy="236.1" r="2.35"/><circle cx="307.9" cy="237.4" r="2.35"/><circle cx="307.8" cy="237.1" r="2.35"/><circle cx="298.6" cy="237.7" r="2.35"/><circle cx="296.9" cy="238.0" r="2.35"/><circle cx="295.1" cy="238.5" r="2.35"/><circle cx="300.7" cy="237.6" r="2.35"/><circle cx="299.5" cy="237.4" r="2.35"/><circle cx="302.9" cy="230.2" r="2.35"/><circle cx="301.2" cy="230.3" r="2.35"/><circle cx="299.3" cy="230.5" r="2.35"/><circle cx="298.3" cy="232.7" r="2.35"/><circle cx="297.5" cy="234.1" r="2.35"/><circle cx="296.0" cy="233.3" r="2.35"/><circle cx="294.7" cy="243.6" r="2.35"/><circle cx="294.4" cy="245.3" r="2.35"/><circle cx="293.3" cy="247.6" r="2.35"/><circle cx="306.6" cy="247.9" r="2.35"/><circle cx="307.1" cy="248.0" r="2.35"/><circle cx="225.5" cy="268.0" r="2.35"/><circle cx="223.3" cy="267.4" r="2.35"/><circle cx="221.4" cy="269.5" r="2.35"/><circle cx="211.5" cy="264.6" r="2.35"/><circle cx="211.5" cy="266.4" r="2.35"/><circle cx="214.5" cy="266.1" r="2.35"/><circle cx="214.3" cy="267.4" r="2.35"/><circle cx="217.5" cy="268.3" r="2.35"/><circle cx="224.9" cy="251.1" r="2.35"/><circle cx="225.1" cy="252.7" r="2.35"/><circle cx="215.0" cy="262.3" r="2.35"/><circle cx="215.8" cy="263.2" r="2.35"/><circle cx="216.1" cy="267.4" r="2.35"/><circle cx="216.0" cy="266.8" r="2.35"/><circle cx="216.5" cy="266.3" r="2.35"/><circle cx="216.6" cy="253.5" r="2.35"/><circle cx="216.2" cy="254.6" r="2.35"/><circle cx="215.7" cy="257.0" r="2.35"/><circle cx="212.4" cy="249.7" r="2.35"/><circle cx="214.1" cy="250.9" r="2.35"/><circle cx="213.3" cy="253.0" r="2.35"/><circle cx="214.3" cy="254.9" r="2.35"/><circle cx="217.2" cy="260.2" r="2.35"/><circle cx="214.8" cy="261.5" r="2.35"/><circle cx="212.4" cy="261.7" r="2.35"/><circle cx="212.7" cy="265.3" r="2.35"/><circle cx="220.0" cy="253.3" r="2.35"/><circle cx="220.4" cy="251.8" r="2.35"/><circle cx="221.8" cy="252.8" r="2.35"/><circle cx="224.1" cy="251.5" r="2.35"/><circle cx="221.8" cy="260.7" r="2.35"/><circle cx="222.2" cy="260.1" r="2.35"/><circle cx="222.0" cy="263.2" r="2.35"/><circle cx="223.2" cy="262.7" r="2.35"/><circle cx="237.8" cy="263.1" r="2.35"/><circle cx="238.2" cy="263.1" r="2.35"/><circle cx="239.5" cy="263.9" r="2.35"/><circle cx="238.9" cy="265.4" r="2.35"/><circle cx="239.2" cy="267.7" r="2.35"/><circle cx="240.9" cy="268.3" r="2.35"/><circle cx="236.2" cy="256.7" r="2.35"/><circle cx="236.1" cy="259.2" r="2.35"/><circle cx="234.4" cy="258.7" r="2.35"/><circle cx="232.6" cy="259.7" r="2.35"/><circle cx="246.0" cy="259.0" r="2.35"/><circle cx="247.3" cy="259.7" r="2.35"/><circle cx="247.2" cy="261.0" r="2.35"/><circle cx="249.5" cy="253.9" r="2.35"/><circle cx="251.7" cy="254.2" r="2.35"/><circle cx="235.7" cy="254.9" r="2.35"/><circle cx="236.2" cy="255.3" r="2.35"/><circle cx="238.2" cy="255.0" r="2.35"/><circle cx="234.2" cy="259.4" r="2.35"/><circle cx="233.6" cy="261.8" r="2.35"/><circle cx="233.3" cy="260.2" r="2.35"/><circle cx="234.0" cy="259.9" r="2.35"/><circle cx="234.1" cy="261.8" r="2.35"/><circle cx="231.1" cy="261.1" r="2.35"/><circle cx="243.1" cy="267.4" r="2.35"/><circle cx="239.7" cy="266.7" r="2.35"/><circle cx="239.4" cy="266.2" r="2.35"/><circle cx="242.4" cy="252.7" r="2.35"/><circle cx="240.3" cy="253.6" r="2.35"/><circle cx="237.6" cy="252.5" r="2.35"/><circle cx="235.1" cy="252.9" r="2.35"/><circle cx="233.5" cy="253.1" r="2.35"/><circle cx="231.8" cy="254.6" r="2.35"/><circle cx="230.7" cy="255.4" r="2.35"/><circle cx="239.2" cy="261.8" r="2.35"/><circle cx="238.3" cy="264.3" r="2.35"/><circle cx="238.0" cy="264.4" r="2.35"/><circle cx="247.4" cy="253.4" r="2.35"/><circle cx="248.6" cy="251.3" r="2.35"/><circle cx="249.8" cy="251.5" r="2.35"/><circle cx="250.4" cy="251.8" r="2.35"/><circle cx="251.9" cy="252.4" r="2.35"/><circle cx="253.9" cy="251.8" r="2.35"/><circle cx="268.9" cy="261.1" r="2.35"/><circle cx="268.9" cy="259.7" r="2.35"/><circle cx="257.4" cy="255.9" r="2.35"/><circle cx="256.5" cy="258.9" r="2.35"/><circle cx="254.6" cy="260.5" r="2.35"/><circle cx="252.3" cy="261.2" r="2.35"/><circle cx="249.8" cy="261.6" r="2.35"/><circle cx="268.9" cy="265.8" r="2.35"/><circle cx="267.6" cy="269.3" r="2.35"/><circle cx="271.9" cy="254.9" r="2.35"/><circle cx="268.6" cy="255.1" r="2.35"/><circle cx="268.3" cy="257.1" r="2.35"/><circle cx="268.1" cy="256.7" r="2.35"/><circle cx="265.6" cy="258.0" r="2.35"/><circle cx="263.6" cy="258.5" r="2.35"/><circle cx="253.5" cy="257.3" r="2.35"/><circle cx="251.9" cy="256.3" r="2.35"/><circle cx="251.1" cy="258.5" r="2.35"/><circle cx="265.9" cy="259.2" r="2.35"/><circle cx="266.8" cy="258.9" r="2.35"/><circle cx="266.1" cy="262.1" r="2.35"/><circle cx="267.1" cy="262.9" r="2.35"/><circle cx="267.4" cy="254.3" r="2.35"/><circle cx="267.1" cy="252.9" r="2.35"/><circle cx="268.3" cy="254.9" r="2.35"/><circle cx="257.7" cy="253.4" r="2.35"/><circle cx="260.1" cy="256.9" r="2.35"/><circle cx="255.9" cy="266.2" r="2.35"/><circle cx="256.7" cy="267.1" r="2.35"/><circle cx="283.5" cy="258.1" r="2.35"/><circle cx="285.3" cy="260.3" r="2.35"/><circle cx="284.6" cy="253.2" r="2.35"/><circle cx="286.7" cy="256.5" r="2.35"/><circle cx="286.7" cy="257.2" r="2.35"/><circle cx="286.0" cy="259.2" r="2.35"/><circle cx="286.6" cy="259.0" r="2.35"/><circle cx="283.7" cy="261.8" r="2.35"/><circle cx="282.9" cy="261.7" r="2.35"/><circle cx="291.1" cy="264.2" r="2.35"/><circle cx="291.1" cy="265.8" r="2.35"/><circle cx="291.0" cy="264.6" r="2.35"/><circle cx="287.8" cy="264.5" r="2.35"/><circle cx="286.8" cy="264.6" r="2.35"/><circle cx="285.6" cy="264.2" r="2.35"/><circle cx="288.7" cy="263.5" r="2.35"/><circle cx="286.7" cy="262.6" r="2.35"/><circle cx="286.2" cy="266.2" r="2.35"/><circle cx="275.1" cy="261.0" r="2.35"/><circle cx="273.7" cy="258.4" r="2.35"/><circle cx="271.4" cy="260.4" r="2.35"/><circle cx="289.2" cy="257.0" r="2.35"/><circle cx="293.9" cy="251.0" r="2.35"/><circle cx="293.5" cy="255.3" r="2.35"/><circle cx="293.6" cy="256.4" r="2.35"/><circle cx="292.9" cy="265.6" r="2.35"/><circle cx="293.5" cy="267.7" r="2.35"/><circle cx="288.1" cy="259.9" r="2.35"/><circle cx="289.2" cy="259.6" r="2.35"/><circle cx="291.5" cy="261.0" r="2.35"/><circle cx="294.2" cy="259.8" r="2.35"/><circle cx="305.4" cy="264.3" r="2.35"/><circle cx="305.8" cy="263.4" r="2.35"/><circle cx="305.8" cy="260.2" r="2.35"/><circle cx="307.4" cy="261.9" r="2.35"/><circle cx="295.0" cy="264.0" r="2.35"/><circle cx="313.3" cy="250.4" r="2.35"/><circle cx="316.2" cy="250.8" r="2.35"/><circle cx="317.0" cy="251.6" r="2.35"/><circle cx="318.4" cy="248.7" r="2.35"/><circle cx="318.0" cy="250.0" r="2.35"/><circle cx="319.1" cy="252.4" r="2.35"/><circle cx="324.6" cy="264.3" r="2.35"/><circle cx="323.9" cy="265.2" r="2.35"/><circle cx="320.8" cy="259.0" r="2.35"/><circle cx="321.8" cy="259.0" r="2.35"/><circle cx="330.6" cy="265.6" r="2.35"/><circle cx="329.5" cy="266.7" r="2.35"/><circle cx="326.8" cy="265.7" r="2.35"/><circle cx="339.0" cy="249.3" r="2.35"/><circle cx="336.8" cy="250.8" r="2.35"/><circle cx="335.6" cy="251.5" r="2.35"/><circle cx="344.0" cy="265.9" r="2.35"/><circle cx="362.3" cy="249.7" r="2.35"/><circle cx="359.6" cy="251.9" r="2.35"/><circle cx="349.4" cy="249.4" r="2.35"/><circle cx="349.4" cy="250.9" r="2.35"/><circle cx="224.6" cy="269.4" r="2.35"/><circle cx="223.4" cy="269.1" r="2.35"/><circle cx="221.9" cy="271.8" r="2.35"/><circle cx="219.8" cy="270.3" r="2.35"/><circle cx="220.9" cy="271.9" r="2.35"/><circle cx="225.8" cy="273.3" r="2.35"/><circle cx="227.2" cy="275.0" r="2.35"/><circle cx="227.2" cy="272.9" r="2.35"/><circle cx="229.8" cy="272.1" r="2.35"/><circle cx="212.6" cy="277.3" r="2.35"/><circle cx="214.1" cy="277.8" r="2.35"/><circle cx="214.7" cy="278.7" r="2.35"/><circle cx="248.2" cy="271.7" r="2.35"/><circle cx="247.9" cy="273.2" r="2.35"/><circle cx="248.2" cy="274.3" r="2.35"/><circle cx="249.4" cy="276.3" r="2.35"/><circle cx="248.6" cy="276.6" r="2.35"/><circle cx="250.0" cy="278.9" r="2.35"/><circle cx="233.1" cy="282.9" r="2.35"/><circle cx="235.1" cy="282.7" r="2.35"/><circle cx="237.2" cy="283.0" r="2.35"/><circle cx="239.0" cy="283.1" r="2.35"/><circle cx="240.6" cy="283.2" r="2.35"/><circle cx="241.1" cy="283.5" r="2.35"/><circle cx="244.3" cy="269.8" r="2.35"/><circle cx="246.0" cy="271.9" r="2.35"/><circle cx="239.3" cy="284.5" r="2.35"/><circle cx="240.5" cy="284.0" r="2.35"/><circle cx="241.6" cy="287.8" r="2.35"/><circle cx="243.1" cy="288.8" r="2.35"/><circle cx="251.4" cy="283.5" r="2.35"/><circle cx="250.4" cy="286.8" r="2.35"/><circle cx="250.6" cy="289.7" r="2.35"/><circle cx="241.4" cy="286.1" r="2.35"/><circle cx="239.0" cy="287.0" r="2.35"/><circle cx="238.5" cy="286.4" r="2.35"/><circle cx="234.6" cy="286.0" r="2.35"/><circle cx="255.2" cy="269.4" r="2.35"/><circle cx="253.4" cy="270.5" r="2.35"/><circle cx="249.8" cy="271.3" r="2.35"/><circle cx="262.4" cy="287.3" r="2.35"/><circle cx="261.4" cy="286.0" r="2.35"/><circle cx="266.0" cy="277.5" r="2.35"/><circle cx="263.6" cy="277.2" r="2.35"/><circle cx="262.1" cy="278.8" r="2.35"/><circle cx="261.1" cy="272.8" r="2.35"/><circle cx="259.0" cy="273.4" r="2.35"/><circle cx="259.4" cy="275.0" r="2.35"/><circle cx="257.9" cy="276.9" r="2.35"/><circle cx="257.1" cy="276.5" r="2.35"/><circle cx="256.5" cy="277.3" r="2.35"/><circle cx="266.5" cy="287.4" r="2.35"/><circle cx="263.6" cy="286.3" r="2.35"/><circle cx="263.0" cy="288.7" r="2.35"/><circle cx="262.3" cy="288.3" r="2.35"/><circle cx="267.2" cy="283.4" r="2.35"/><circle cx="266.5" cy="284.3" r="2.35"/><circle cx="265.2" cy="285.1" r="2.35"/><circle cx="264.0" cy="287.6" r="2.35"/><circle cx="264.9" cy="288.1" r="2.35"/><circle cx="264.8" cy="289.7" r="2.35"/><circle cx="262.6" cy="276.8" r="2.35"/><circle cx="264.2" cy="277.5" r="2.35"/><circle cx="265.7" cy="279.4" r="2.35"/><circle cx="267.5" cy="279.5" r="2.35"/><circle cx="265.0" cy="272.7" r="2.35"/><circle cx="275.3" cy="277.7" r="2.35"/><circle cx="278.3" cy="280.2" r="2.35"/><circle cx="280.5" cy="280.8" r="2.35"/><circle cx="283.1" cy="284.6" r="2.35"/><circle cx="272.3" cy="284.6" r="2.35"/><circle cx="275.8" cy="284.9" r="2.35"/><circle cx="275.3" cy="285.6" r="2.35"/><circle cx="275.4" cy="287.0" r="2.35"/><circle cx="291.1" cy="282.8" r="2.35"/><circle cx="288.3" cy="283.4" r="2.35"/><circle cx="285.8" cy="283.2" r="2.35"/><circle cx="286.5" cy="276.0" r="2.35"/><circle cx="289.4" cy="274.9" r="2.35"/><circle cx="289.7" cy="275.7" r="2.35"/><circle cx="291.1" cy="275.5" r="2.35"/><circle cx="288.6" cy="269.2" r="2.35"/><circle cx="307.2" cy="284.3" r="2.35"/><circle cx="306.7" cy="283.6" r="2.35"/><circle cx="306.5" cy="286.3" r="2.35"/><circle cx="303.9" cy="286.8" r="2.35"/><circle cx="307.2" cy="288.4" r="2.35"/><circle cx="300.3" cy="272.4" r="2.35"/><circle cx="300.3" cy="274.5" r="2.35"/><circle cx="299.1" cy="275.4" r="2.35"/><circle cx="298.7" cy="276.1" r="2.35"/><circle cx="300.0" cy="277.3" r="2.35"/><circle cx="304.8" cy="277.6" r="2.35"/><circle cx="301.6" cy="269.4" r="2.35"/><circle cx="303.2" cy="268.9" r="2.35"/><circle cx="306.7" cy="270.0" r="2.35"/><circle cx="292.3" cy="280.6" r="2.35"/><circle cx="290.1" cy="282.3" r="2.35"/><circle cx="291.5" cy="284.6" r="2.35"/><circle cx="298.9" cy="268.6" r="2.35"/><circle cx="300.3" cy="270.4" r="2.35"/><circle cx="325.0" cy="270.3" r="2.35"/><circle cx="325.0" cy="273.3" r="2.35"/><circle cx="324.1" cy="274.1" r="2.35"/><circle cx="323.1" cy="276.3" r="2.35"/><circle cx="322.1" cy="277.7" r="2.35"/><circle cx="312.3" cy="276.1" r="2.35"/><circle cx="317.9" cy="273.0" r="2.35"/><circle cx="319.8" cy="271.8" r="2.35"/><circle cx="320.1" cy="272.0" r="2.35"/><circle cx="317.8" cy="274.4" r="2.35"/><circle cx="343.1" cy="270.1" r="2.35"/><circle cx="346.2" cy="270.4" r="2.35"/><circle cx="346.5" cy="271.9" r="2.35"/><circle cx="343.6" cy="275.9" r="2.35"/><circle cx="341.6" cy="276.3" r="2.35"/><circle cx="342.0" cy="278.5" r="2.35"/><circle cx="339.4" cy="280.7" r="2.35"/><circle cx="347.0" cy="274.2" r="2.35"/><circle cx="344.4" cy="273.8" r="2.35"/><circle cx="361.9" cy="278.3" r="2.35"/><circle cx="360.7" cy="280.1" r="2.35"/><circle cx="363.8" cy="268.7" r="2.35"/><circle cx="363.2" cy="270.6" r="2.35"/><circle cx="364.7" cy="270.7" r="2.35"/><circle cx="365.4" cy="272.9" r="2.35"/><circle cx="221.1" cy="289.4" r="2.35"/><circle cx="222.3" cy="289.3" r="2.35"/><circle cx="220.6" cy="292.2" r="2.35"/><circle cx="221.0" cy="292.5" r="2.35"/><circle cx="223.4" cy="289.3" r="2.35"/><circle cx="221.8" cy="290.4" r="2.35"/><circle cx="222.3" cy="289.6" r="2.35"/><circle cx="218.7" cy="289.7" r="2.35"/><circle cx="218.6" cy="291.6" r="2.35"/><circle cx="232.2" cy="300.0" r="2.35"/><circle cx="232.7" cy="301.5" r="2.35"/><circle cx="234.4" cy="299.5" r="2.35"/><circle cx="238.9" cy="289.6" r="2.35"/><circle cx="236.5" cy="291.2" r="2.35"/><circle cx="235.5" cy="293.0" r="2.35"/><circle cx="236.3" cy="300.3" r="2.35"/><circle cx="237.0" cy="300.5" r="2.35"/><circle cx="258.4" cy="290.4" r="2.35"/><circle cx="260.1" cy="289.4" r="2.35"/><circle cx="261.7" cy="290.3" r="2.35"/><circle cx="263.4" cy="290.7" r="2.35"/><circle cx="262.9" cy="292.6" r="2.35"/><circle cx="265.8" cy="293.0" r="2.35"/><circle cx="260.3" cy="289.1" r="2.35"/><circle cx="259.2" cy="289.5" r="2.35"/><circle cx="254.7" cy="288.0" r="2.35"/><circle cx="262.0" cy="302.1" r="2.35"/><circle cx="262.4" cy="302.6" r="2.35"/><circle cx="262.5" cy="305.8" r="2.35"/><circle cx="266.2" cy="288.7" r="2.35"/><circle cx="263.7" cy="288.6" r="2.35"/><circle cx="277.0" cy="293.4" r="2.35"/><circle cx="276.1" cy="295.9" r="2.35"/><circle cx="276.6" cy="297.6" r="2.35"/><circle cx="276.4" cy="296.5" r="2.35"/><circle cx="273.8" cy="303.8" r="2.35"/><circle cx="274.6" cy="302.4" r="2.35"/><circle cx="275.9" cy="305.1" r="2.35"/><circle cx="277.1" cy="304.2" r="2.35"/><circle cx="277.7" cy="305.6" r="2.35"/><circle cx="272.3" cy="301.0" r="2.35"/><circle cx="303.0" cy="293.2" r="2.35"/><circle cx="303.5" cy="294.6" r="2.35"/><circle cx="306.0" cy="294.7" r="2.35"/><circle cx="306.3" cy="294.7" r="2.35"/><circle cx="306.8" cy="295.7" r="2.35"/><circle cx="309.0" cy="296.5" r="2.35"/><circle cx="302.7" cy="287.4" r="2.35"/><circle cx="302.1" cy="290.4" r="2.35"/><circle cx="300.9" cy="291.1" r="2.35"/><circle cx="298.7" cy="295.7" r="2.35"/><circle cx="313.1" cy="295.8" r="2.35"/><circle cx="313.8" cy="297.7" r="2.35"/><circle cx="328.0" cy="301.7" r="2.35"/><circle cx="325.4" cy="304.6" r="2.35"/><circle cx="339.5" cy="302.9" r="2.35"/><circle cx="356.4" cy="299.0" r="2.35"/><circle cx="222.2" cy="317.1" r="2.35"/><circle cx="224.7" cy="317.4" r="2.35"/><circle cx="225.2" cy="320.1" r="2.35"/><circle cx="225.9" cy="314.5" r="2.35"/><circle cx="225.4" cy="317.3" r="2.35"/><circle cx="225.1" cy="317.1" r="2.35"/><circle cx="226.2" cy="318.5" r="2.35"/><circle cx="237.7" cy="306.1" r="2.35"/><circle cx="238.4" cy="306.8" r="2.35"/><circle cx="238.9" cy="309.3" r="2.35"/><circle cx="238.3" cy="311.7" r="2.35"/><circle cx="239.1" cy="311.8" r="2.35"/><circle cx="231.4" cy="320.7" r="2.35"/><circle cx="231.3" cy="321.9" r="2.35"/><circle cx="244.4" cy="306.6" r="2.35"/><circle cx="244.7" cy="310.2" r="2.35"/><circle cx="270.7" cy="323.6" r="2.35"/><circle cx="268.3" cy="322.2" r="2.35"/><circle cx="267.8" cy="323.5" r="2.35"/><circle cx="270.8" cy="319.1" r="2.35"/><circle cx="269.2" cy="321.2" r="2.35"/><circle cx="268.8" cy="319.9" r="2.35"/><circle cx="257.6" cy="312.0" r="2.35"/><circle cx="275.1" cy="324.8" r="2.35"/><circle cx="273.2" cy="324.6" r="2.35"/><circle cx="272.0" cy="324.9" r="2.35"/><circle cx="269.2" cy="327.3" r="2.35"/><circle cx="268.9" cy="326.4" r="2.35"/><circle cx="274.1" cy="322.4" r="2.35"/><circle cx="276.7" cy="324.6" r="2.35"/><circle cx="289.0" cy="313.0" r="2.35"/><circle cx="290.3" cy="314.5" r="2.35"/><circle cx="290.8" cy="316.6" r="2.35"/><circle cx="292.2" cy="318.7" r="2.35"/><circle cx="290.3" cy="307.5" r="2.35"/><circle cx="293.9" cy="307.6" r="2.35"/><circle cx="320.7" cy="322.3" r="2.35"/><circle cx="319.4" cy="322.7" r="2.35"/><circle cx="346.5" cy="312.2" r="2.35"/><circle cx="235.5" cy="331.8" r="2.35"/><circle cx="235.7" cy="333.0" r="2.35"/><circle cx="236.4" cy="335.5" r="2.35"/><circle cx="147.7" cy="238.7" r="2.35"/><circle cx="148.4" cy="242.2" r="2.35"/><circle cx="150.1" cy="243.7" r="2.35"/><circle cx="152.7" cy="244.3" r="2.35"/><circle cx="152.7" cy="244.8" r="2.35"/><circle cx="159.1" cy="232.6" r="2.35"/><circle cx="158.6" cy="235.6" r="2.35"/><circle cx="159.7" cy="237.5" r="2.35"/><circle cx="155.9" cy="234.1" r="2.35"/><circle cx="156.4" cy="236.4" r="2.35"/><circle cx="161.7" cy="237.4" r="2.35"/><circle cx="163.6" cy="236.4" r="2.35"/><circle cx="165.8" cy="239.2" r="2.35"/><circle cx="167.8" cy="238.0" r="2.35"/><circle cx="180.5" cy="244.1" r="2.35"/><circle cx="178.9" cy="246.0" r="2.35"/><circle cx="177.7" cy="248.4" r="2.35"/><circle cx="176.3" cy="250.3" r="2.35"/><circle cx="175.1" cy="249.6" r="2.35"/><circle cx="155.2" cy="250.0" r="2.35"/><circle cx="208.3" cy="275.1" r="2.35"/><circle cx="204.9" cy="274.5" r="2.35"/><circle cx="204.4" cy="278.0" r="2.35"/><circle cx="202.3" cy="279.6" r="2.35"/><circle cx="201.8" cy="279.7" r="2.35"/><circle cx="199.6" cy="281.4" r="2.35"/><circle cx="190.7" cy="274.7" r="2.35"/><circle cx="191.6" cy="275.5" r="2.35"/><circle cx="192.8" cy="277.4" r="2.35"/><circle cx="194.4" cy="277.8" r="2.35"/><circle cx="193.5" cy="258.3" r="2.35"/><circle cx="193.7" cy="260.6" r="2.35"/><circle cx="194.7" cy="262.4" r="2.35"/><circle cx="195.3" cy="263.2" r="2.35"/><circle cx="177.0" cy="243.8" r="2.35"/><circle cx="180.5" cy="243.9" r="2.35"/><circle cx="180.4" cy="243.2" r="2.35"/><circle cx="187.9" cy="291.0" r="2.35"/><circle cx="189.3" cy="294.7" r="2.35"/><circle cx="190.6" cy="293.4" r="2.35"/><circle cx="191.5" cy="295.7" r="2.35"/><circle cx="190.7" cy="296.8" r="2.35"/><circle cx="169.5" cy="302.4" r="2.35"/><circle cx="169.7" cy="304.7" r="2.35"/><circle cx="168.5" cy="307.3" r="2.35"/><circle cx="168.2" cy="307.3" r="2.35"/><circle cx="200.1" cy="314.9" r="2.35"/><circle cx="198.9" cy="317.2" r="2.35"/><circle cx="196.4" cy="316.9" r="2.35"/><circle cx="196.6" cy="318.1" r="2.35"/><circle cx="192.6" cy="321.9" r="2.35"/><circle cx="193.7" cy="322.0" r="2.35"/><circle cx="206.4" cy="321.8" r="2.35"/><circle cx="207.0" cy="322.5" r="2.35"/><circle cx="178.3" cy="313.2" r="2.35"/><circle cx="178.1" cy="315.6" r="2.35"/><circle cx="179.3" cy="333.2" r="2.35"/><circle cx="184.1" cy="335.3" r="2.35"/><circle cx="192.4" cy="334.5" r="2.35"/><circle cx="201.4" cy="335.1" r="2.35"/><circle cx="202.4" cy="336.1" r="2.35"/><circle cx="201.4" cy="341.1" r="2.35"/><circle cx="205.5" cy="340.1" r="2.35"/><circle cx="205.5" cy="347.6" r="2.35"/><circle cx="210.0" cy="344.1" r="2.35"/><circle cx="211.0" cy="348.6" r="2.35"/><circle cx="210.5" cy="352.2" r="2.35"/><circle cx="210.0" cy="360.2" r="2.35"/><circle cx="208.5" cy="366.3" r="2.35"/><circle cx="190.9" cy="374.3" r="2.35"/><circle cx="210.0" cy="372.3" r="2.35"/><circle cx="212.5" cy="371.3" r="2.35"/><circle cx="189.3" cy="328.5" r="2.35"/><circle cx="184.3" cy="327.0" r="2.35"/><circle cx="180.3" cy="327.5" r="2.35"/><circle cx="198.9" cy="330.0" r="2.35"/><circle cx="211.5" cy="333.0" r="2.35"/><circle cx="212.5" cy="337.1" r="2.35"/><circle cx="212.0" cy="356.2" r="2.35"/><circle cx="212.5" cy="364.2" r="2.35"/><circle cx="312.7" cy="234.0" r="2.35"/><circle cx="322.7" cy="232.0" r="2.35"/><circle cx="330.7" cy="234.4" r="2.35"/><circle cx="338.1" cy="235.6" r="2.35"/><circle cx="346.7" cy="239.0" r="2.35"/><circle cx="355.6" cy="246.0" r="2.35"/><circle cx="354.6" cy="251.5" r="2.35"/><circle cx="361.0" cy="248.4" r="2.35"/><circle cx="316.7" cy="248.4" r="2.35"/><circle cx="321.7" cy="249.0" r="2.35"/><circle cx="323.7" cy="248.0" r="2.35"/><circle cx="329.1" cy="254.9" r="2.35"/><circle cx="309.7" cy="242.0" r="2.35"/><circle cx="311.7" cy="245.6" r="2.35"/><circle cx="377.0" cy="256.9" r="2.35"/><circle cx="379.0" cy="258.9" r="2.35"/><circle cx="381.0" cy="261.9" r="2.35"/><circle cx="383.0" cy="262.9" r="2.35"/><circle cx="385.0" cy="257.9" r="2.35"/><circle cx="386.9" cy="261.9" r="2.35"/><circle cx="378.0" cy="265.9" r="2.35"/><circle cx="384.0" cy="267.9" r="2.35"/><circle cx="387.9" cy="264.9" r="2.35"/><circle cx="375.0" cy="256.9" r="2.35"/><circle cx="372.0" cy="257.9" r="2.35"/><circle cx="369.0" cy="259.9" r="2.35"/><circle cx="208.8" cy="354.0" r="2.35"/><circle cx="210.8" cy="361.0" r="2.35"/><circle cx="209.8" cy="371.9" r="2.35"/><circle cx="212.8" cy="372.9" r="2.35"/><circle cx="211.8" cy="376.9" r="2.35"/><circle cx="213.8" cy="381.9" r="2.35"/><circle cx="212.8" cy="386.9" r="2.35"/><circle cx="214.8" cy="394.9" r="2.35"/><circle cx="215.8" cy="395.9" r="2.35"/><circle cx="199.8" cy="376.9" r="2.35"/><circle cx="200.8" cy="382.3" r="2.35"/><circle cx="196.8" cy="381.9" r="2.35"/><circle cx="207.8" cy="383.9" r="2.35"/><circle cx="223.8" cy="368.0" r="2.35"/><circle cx="224.8" cy="371.9" r="2.35"/><circle cx="221.8" cy="364.0" r="2.35"/><circle cx="217.8" cy="359.0" r="2.35"/><circle cx="225.8" cy="398.9" r="2.35"/><circle cx="240.7" cy="364.0" r="2.35"/><circle cx="250.7" cy="367.0" r="2.35"/><circle cx="257.7" cy="356.0" r="2.35"/><circle cx="269.7" cy="358.0" r="2.35"/></g>
<path d="M84.24 308.25L642.17 323.57" stroke="#54278f" stroke-width="3.0" fill="none" stroke-linecap="round"/>
<path d="M54.1 307.45H672.8M54.1 317.35H672.8" stroke="#6a51a3" stroke-opacity="0.68" stroke-width="3.0" fill="none"/>
<path d="M84.24 44.73 L87.03 56.50 L89.82 67.39 L92.61 77.47 L95.40 86.84 L98.19 95.56 L100.98 103.71 L103.77 111.34 L106.56 118.50 L109.35 125.22 L112.14 131.55 L114.93 137.52 L117.72 143.17 L120.51 148.51 L123.29 153.57 L126.08 158.37 L128.87 162.93 L131.66 167.27 L134.45 171.41 L137.24 175.36 L140.03 179.12 L142.82 182.72 L145.61 186.17 L148.40 189.47 L151.19 192.63 L153.98 195.66 L156.77 198.58 L159.56 201.38 L162.35 204.07 L165.14 206.66 L167.93 209.15 L170.72 211.56 L173.51 213.88 L176.30 216.12 L179.09 218.28 L181.88 220.37 L184.67 222.39 L187.46 224.34 L190.25 226.23 L193.04 228.06 L195.83 229.83 L198.61 231.55 L201.40 233.22 L204.19 234.84 L206.98 236.41 L209.77 237.93 L212.56 239.42 L215.35 240.86 L218.14 242.26 L220.93 243.62 L223.72 244.94 L226.51 246.23 L229.30 247.49 L232.09 248.71 L234.88 249.91 L237.67 251.07 L240.46 252.20 L243.25 253.31 L246.04 254.38 L248.83 255.44 L251.62 256.46 L254.41 257.47 L257.20 258.45 L259.99 259.41 L262.78 260.34 L265.57 261.26 L268.36 262.15 L271.15 263.03 L273.94 263.88 L276.72 264.72 L279.51 265.54 L282.30 266.34 L285.09 267.13 L287.88 267.90 L290.67 268.65 L293.46 269.39 L296.25 270.12 L299.04 270.83 L301.83 271.52 L304.62 272.21 L307.41 272.88 L310.20 273.53 L312.99 274.18 L315.78 274.81 L318.57 275.43 L321.36 276.04 L324.15 276.64 L326.94 277.23 L329.73 277.80 L332.52 278.37 L335.31 278.93 L338.10 279.47 L340.89 280.01 L343.68 280.54 L346.47 281.06 L349.26 281.57 L352.05 282.07 L354.83 282.57 L357.62 283.06 L360.41 283.53 L363.20 284.00 L365.99 284.47 L368.78 284.92 L371.57 285.37 L374.36 285.81 L377.15 286.25 L379.94 286.68 L382.73 287.10 L385.52 287.51 L388.31 287.92 L391.10 288.32 L393.89 288.72 L396.68 289.11 L399.47 289.50 L402.26 289.88 L405.05 290.25 L407.84 290.62 L410.63 290.98 L413.42 291.34 L416.21 291.70 L419.00 292.05 L421.79 292.39 L424.58 292.73 L427.37 293.06 L430.16 293.39 L432.94 293.72 L435.73 294.04 L438.52 294.36 L441.31 294.67 L444.10 294.98 L446.89 295.28 L449.68 295.59 L452.47 295.88 L455.26 296.18 L458.05 296.47 L460.84 296.75 L463.63 297.03 L466.42 297.31 L469.21 297.59 L472.00 297.86 L474.79 298.13 L477.58 298.39 L480.37 298.66 L483.16 298.92 L485.95 299.17 L488.74 299.43 L491.53 299.68 L494.32 299.92 L497.11 300.17 L499.90 300.41 L502.69 300.65 L505.48 300.88 L508.27 301.12 L511.05 301.35 L513.84 301.57 L516.63 301.80 L519.42 302.02 L522.21 302.24 L525.00 302.46 L527.79 302.68 L530.58 302.89 L533.37 303.10 L536.16 303.31 L538.95 303.52 L541.74 303.72 L544.53 303.92 L547.32 304.12 L550.11 304.32 L552.90 304.52 L555.69 304.71 L558.48 304.90 L561.27 305.09 L564.06 305.28 L566.85 305.47 L569.64 305.65 L572.43 305.84 L575.22 306.02 L578.01 306.20 L580.80 306.37 L583.59 306.55 L586.37 306.72 L589.16 306.89 L591.95 307.06 L594.74 307.23 L597.53 307.40 L600.32 307.56 L603.11 307.73 L605.90 307.89 L608.69 308.05 L611.48 308.21 L614.27 308.37 L617.06 308.52 L619.85 308.68 L622.64 308.83 L625.43 308.98 L628.22 309.13 L631.01 309.28 L633.80 309.43 L636.59 309.58 L639.38 309.72 L642.17 309.87" stroke="#08519c" stroke-width="3.2" fill="none" stroke-linecap="round" stroke-linejoin="round"/>
<text x="363.5" y="20.0" font-size="16.8" text-anchor="middle" fill="#262626" textLength="263.5" lengthAdjust="spacingAndGlyphs">10Y Stock and Bond Returns by CAPE</text>
<text x="87.6" y="461.0" font-size="9.8" text-anchor="middle" fill="#262626" textLength="4.4" lengthAdjust="spacingAndGlyphs">5</text>
<text x="158.3" y="461.0" font-size="9.8" text-anchor="middle" fill="#262626" textLength="8.8" lengthAdjust="spacingAndGlyphs">10</text>
<text x="229.1" y="461.0" font-size="9.8" text-anchor="middle" fill="#262626" textLength="8.8" lengthAdjust="spacingAndGlyphs">15</text>
<text x="299.9" y="461.0" font-size="9.8" text-anchor="middle" fill="#262626" textLength="8.8" lengthAdjust="spacingAndGlyphs">20</text>
<text x="370.6" y="461.0" font-size="9.8" text-anchor="middle" fill="#262626" textLength="8.8" lengthAdjust="spacingAndGlyphs">25</text>
<text x="441.4" y="461.0" font-size="9.8" text-anchor="middle" fill="#262626" textLength="8.8" lengthAdjust="spacingAndGlyphs">30</text>
<text x="512.1" y="461.0" font-size="9.8" text-anchor="middle" fill="#262626" textLength="8.8" lengthAdjust="spacingAndGlyphs">35</text>
<text x="582.9" y="461.0" font-size="9.8" text-anchor="middle" fill="#262626" textLength="8.8" lengthAdjust="spacingAndGlyphs">40</text>
<text x="653.6" y="461.0" font-size="9.8" text-anchor="middle" fill="#262626" textLength="8.8" lengthAdjust="spacingAndGlyphs">45</text>
<text x="46.2" y="416.4" font-size="9.8" text-anchor="end" fill="#262626" textLength="21.5" lengthAdjust="spacingAndGlyphs">−0.05</text>
<text x="46.2" y="345.5" font-size="9.8" text-anchor="end" fill="#262626" textLength="15.8" lengthAdjust="spacingAndGlyphs">0.00</text>
<text x="46.2" y="274.6" font-size="9.8" text-anchor="end" fill="#262626" textLength="15.8" lengthAdjust="spacingAndGlyphs">0.05</text>
<text x="46.2" y="203.7" font-size="9.8" text-anchor="end" fill="#262626" textLength="15.8" lengthAdjust="spacingAndGlyphs">0.10</text>
<text x="46.2" y="132.8" font-size="9.8" text-anchor="end" fill="#262626" textLength="15.8" lengthAdjust="spacingAndGlyphs">0.15</text>
<text x="46.2" y="61.9" font-size="9.8" text-anchor="end" fill="#262626" textLength="15.8" lengthAdjust="spacingAndGlyphs">0.20</text>
<text x="363.4" y="476.5" font-size="12.4" text-anchor="middle" fill="#262626" textLength="29.5" lengthAdjust="spacingAndGlyphs">CAPE</text>
<text transform="translate(16.2,237.5) rotate(-90)" font-size="12.4" text-anchor="middle" fill="#262626" textLength="91.5" lengthAdjust="spacingAndGlyphs">Annual Returns</text>
<text x="671.4" y="474.9" font-size="7.2" text-anchor="end" fill="#262626" textLength="73" lengthAdjust="spacingAndGlyphs">Source: Robert Shiller</text>
<text x="654.4" y="301.1" font-size="11.5" text-anchor="start" fill="#262626" textLength="95.8" lengthAdjust="spacingAndGlyphs">mean bond returns</text>
<text x="654.4" y="332.3" font-size="11.5" text-anchor="start" fill="#262626" textLength="105.6" lengthAdjust="spacingAndGlyphs">median bond returns</text>
<path d="M533.4 38.5H555.5" stroke="#54278f" stroke-width="3.0" stroke-linecap="butt"/>
<path d="M533.4 52.6H555.5" stroke="#08519c" stroke-width="3.0" stroke-linecap="butt"/>
<circle cx="543.8" cy="66.9" r="2.35" fill="#6e5aa8" fill-opacity="0.5"/>
<circle cx="543.8" cy="81.0" r="2.35" fill="#3182bd" fill-opacity="0.5"/>
<text x="562" y="41.7" font-size="9.6" text-anchor="start" fill="#262626" textLength="100.5" lengthAdjust="spacingAndGlyphs">bond returns regression</text>
<text x="562" y="55.8" font-size="9.6" text-anchor="start" fill="#262626" textLength="101.8" lengthAdjust="spacingAndGlyphs">warranted stock returns</text>
<text x="562" y="70.1" font-size="9.6" text-anchor="start" fill="#262626" textLength="54.8" lengthAdjust="spacingAndGlyphs">bond returns</text>
<text x="562" y="84.2" font-size="9.6" text-anchor="start" fill="#262626" textLength="55.3" lengthAdjust="spacingAndGlyphs">stock returns</text>
</svg></body></html>
